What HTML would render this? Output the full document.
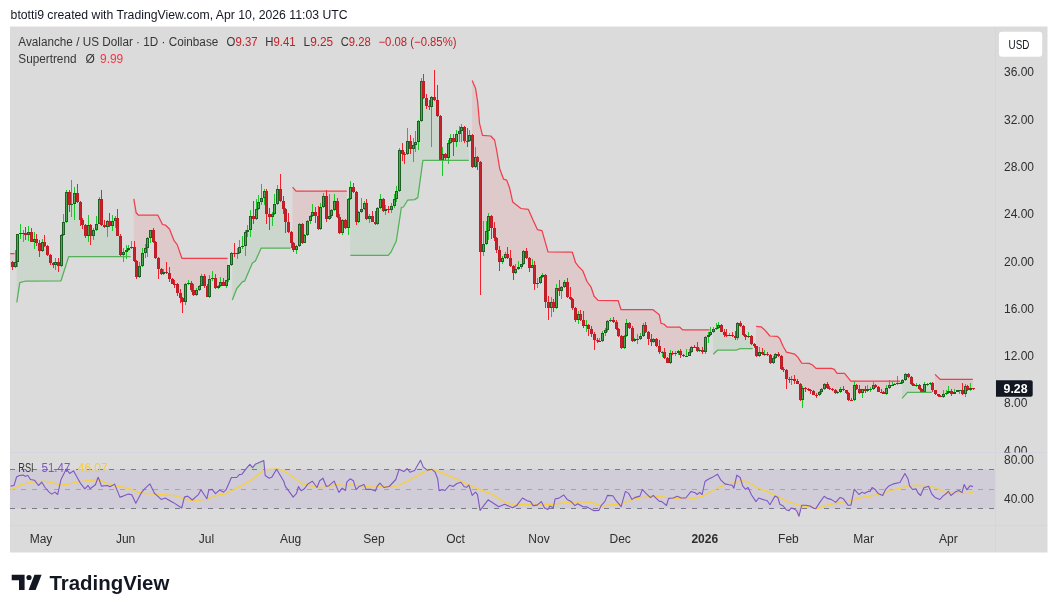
<!DOCTYPE html>
<html><head><meta charset="utf-8"><style>
html,body{margin:0;padding:0;background:#fff;}
body{width:1057px;height:613px;overflow:hidden;position:relative;font-family:"Liberation Sans", sans-serif;}
svg text{font-family:"Liberation Sans", sans-serif;}
.ax{font-size:12px;fill:#2e2e2e;}
.b{font-weight:bold;}
</style></head><body>
<svg width="1057" height="613" viewBox="0 0 1057 613" style="position:absolute;left:0;top:0;will-change:transform">
<text x="10.6" y="18.7" textLength="337" lengthAdjust="spacingAndGlyphs" style="font-size:12px;fill:#131722">btotti9 created with TradingView.com, Apr 10, 2026 11:03 UTC</text>
<rect x="10" y="26.5" width="1037.5" height="526" fill="#dbdbdb"/>
<svg x="10" y="27" width="985" height="425.5" viewBox="10 27 985 425.5" overflow="hidden">
<polygon points="10.2,253.6 14.6,253.6 14.6,264.8 12.4,264.6 10.2,264.6" fill="rgba(242,54,69,0.11)"/><polygon points="16.8,302.4 19.8,282.6 26,281 61,280.8 68.7,256.6 130.7,256.6 130.7,247.8 128.8,248.8 126.1,250.8 123.4,253.3 120.7,245.2 118,226.9 115.3,219.8 112.6,223.5 109.8,223.2 107.1,223.8 104.4,226.1 101.7,212.1 99,211.2 96.3,226.9 93.6,232.9 90.9,230.3 88.2,230.3 85.5,230.3 82.8,222.3 80.1,210.9 77.4,197.9 74.7,198.9 71.9,204.6 69.2,198.4 66.5,207.2 63.8,228.9 61.1,250.9 58.4,263.9 55.7,263.2 53,264.1 50.3,259.1 47.6,250.6 44.9,244.1 42.2,246.4 39.5,246.8 36.8,241.1 34.1,240.4 31.3,236.9 28.6,233.7 25.9,234 23.2,233 20.5,233.7 17.8,248.4 16.8,254.6" fill="rgba(76,175,80,0.11)"/><polygon points="133.8,198.9 136.2,212.8 138.5,215.2 157.9,215.2 162.5,224.5 165.6,225.2 169.5,229 174.1,240.7 177.2,244.6 181.9,258.3 227.6,258.3 227.6,277.9 226.2,283 223.5,283.6 220.8,283.9 218.1,286.9 215.4,283 212.7,278.8 210,287.8 207.3,291.1 204.6,280.6 201.9,280.6 199.2,287.8 196.5,292.3 193.8,292.6 191,286.6 188.3,283.5 185.6,293.4 182.9,300.3 180.2,295.5 177.5,288.5 174.8,283.9 172.1,281.1 169.4,275.9 166.7,272.5 164,272.9 161.3,271.4 158.6,263.6 155.9,250.2 153.2,236.2 150.4,234.2 147.7,243.2 145,250.9 142.3,259.5 139.6,271.3 136.9,268.9 134.2,253.8 133.8,252.9" fill="rgba(242,54,69,0.11)"/><polygon points="232.3,300 236.8,288.5 242.6,281.6 244.6,281.2 252.4,263 255.4,261 261.2,248 290.6,248 290.6,235.5 288.5,227.2 285.8,215.4 283.1,204.9 280.4,194.9 277.7,196.4 275,208.9 272.3,215.5 269.5,215.5 266.8,202.7 264.1,194.6 261.4,199.8 258.7,205.2 256,214.1 253.3,217.3 250.6,222.8 247.9,230.8 245.2,238.9 242.5,246.7 239.8,250.2 237.1,253.4 234.4,253.2 232.3,257.7" fill="rgba(76,175,80,0.11)"/><polygon points="292.6,187.2 296,191.2 346.8,191.2 346.8,218.4 345.3,224.2 342.6,226.8 339.9,225.3 337.2,209.1 334.5,205.5 331.8,213.2 329.1,217.6 326.4,207.3 323.7,201.5 321,218 318.3,222.8 315.6,214.1 312.9,213.8 310.1,218.6 307.4,228.2 304.7,239.4 302,233.9 299.3,234.9 296.6,247.8 293.9,246.7 292.6,242.5" fill="rgba(242,54,69,0.11)"/><polygon points="350.3,255.3 388.2,255.3 391.2,251.8 396.3,241 401.4,207.3 403.5,207 407.6,200.2 414.7,199.6 417.8,197.6 422.9,160.4 468.8,160.4 468.8,139.3 467.1,141.1 464.4,134.1 461.7,129.1 459,132.8 456.3,138.5 453.6,140.4 450.9,140.9 448.2,150.7 445.5,155.9 442.8,156.8 440.1,137.6 437.4,107.8 434.7,98.4 432,102.1 429.2,106.6 426.5,102.1 423.8,89.8 421.1,101.3 418.4,131.8 415.7,143.8 413,147.2 410.3,145.2 407.6,147.5 404.9,153.8 402.2,151.5 399.5,170.2 396.8,195.1 394.1,202.8 391.4,208 388.6,209.2 385.9,210.2 383.2,205.3 380.5,203.7 377.8,215.9 375.1,222.6 372.4,218.9 369.7,217.7 367,211.2 364.3,206.2 361.6,210.6 358.9,216.8 356.2,206.9 353.5,189.7 350.7,193 350.3,196.4" fill="rgba(76,175,80,0.11)"/><polygon points="472.2,80.4 475.6,88.6 477.7,102.2 479.5,123.3 482.5,135.4 490.7,136 494.6,140 496.7,150.5 499.7,168.7 503.6,179.2 506.7,180.1 509.7,188.3 512.7,201.9 520.9,208.5 528.4,209.4 533,220 537.5,229.7 542,230.6 548,251.9 572.3,252.1 575.6,262.7 578.8,266.8 582.9,270.9 587,281.5 591.1,287.2 594.1,296.3 598.1,300.4 618.1,300.5 621,309.5 653,309.7 659.3,314.8 661,323.4 663.8,324 667.3,327.2 679.8,327.2 682.7,329.9 709.6,329.9 709.6,334.5 708,336 705.3,344.9 702.6,351.1 699.9,350.5 697.2,349.4 694.5,347.1 691.8,349.4 689.1,353.8 686.4,355.8 683.7,355.4 681,353.1 678.3,352.4 675.6,353.4 672.9,353.2 670.2,358 667.4,360.5 664.7,355.1 662,352.2 659.3,349.1 656.6,342.5 653.9,340.9 651.2,340.9 648.5,335.5 645.8,328.5 643.1,330.8 640.4,337.5 637.7,338.9 635,340.2 632.3,334.5 629.6,325.4 626.8,329.4 624.1,341.7 621.4,341.7 618.7,332.5 616,325.7 613.3,321.1 610.6,320.6 607.9,325.6 605.2,331.9 602.5,337.2 599.8,341.2 597.1,340.8 594.4,337.4 591.7,331.9 588.9,327.1 586.2,325.6 583.5,323.1 580.8,317 578.1,317 575.4,313.7 572.7,303.5 570,298.2 567.3,289.6 564.6,284.8 561.9,289.2 559.2,289.6 556.5,297.8 553.8,304.8 551.1,305.1 548.3,305.1 545.6,288.4 542.9,275.8 540.2,279.9 537.5,283.6 534.8,274.6 532.1,266.4 529.4,262.7 526.7,254.2 524,257.5 521.3,265.7 518.6,267.9 515.9,270.9 513.2,269.6 510.5,261.9 507.7,255.9 505,256.2 502.3,260.1 499.6,255.9 496.9,243.9 494.2,233.2 491.5,222.4 488.8,223.7 486.1,237.4 483.4,248.2 480.7,207.4 478,159.9 475.3,162.3 472.6,151.3 472.2,149.6" fill="rgba(242,54,69,0.11)"/><polygon points="713.3,354.2 717.7,350 736.5,350 740,348.7 752.6,348.7 752.6,342.5 751.4,340 748.6,336.5 745.9,336 743.2,330.3 740.5,324.6 737.8,330.8 735.1,337.1 732.4,335.5 729.7,335.3 727,335 724.3,333.1 721.6,328.5 718.9,326.5 716.2,328.5 713.5,330.9 713.3,331" fill="rgba(76,175,80,0.11)"/><polygon points="756.2,326.3 761.1,326.8 764.5,329.7 769.9,336 777.2,336.3 779.7,338.5 783.1,346.3 786.5,352.2 794.8,354.2 797.8,357.1 801.7,363.1 809.1,363.4 812.5,365 816,368.4 831.4,368.4 834.3,369.4 837.1,373.4 844.6,373.4 847.4,376.8 850.8,381.1 900,381.1 900,383.2 897.5,383.7 894.8,384.5 892.1,385.2 889.4,386.9 886.7,391 884,393 881.3,392 878.6,389.4 875.9,386.2 873.2,387.4 870.5,389.4 867.7,390.2 865,390.2 862.3,391.1 859.6,390.8 856.9,387.1 854.2,392.8 851.5,399.9 848.8,396.5 846.1,391.7 843.4,389.7 840.7,390.9 838,392.9 835.3,391.9 832.6,389.9 829.9,388.9 827.1,386.3 824.4,386.9 821.7,390.7 819,393.6 816.3,394.9 813.6,392.7 810.9,390.4 808.2,389.6 805.5,388.7 802.8,394.1 800.1,391.8 797.4,382.4 794.7,379.9 792,379.5 789.3,379.5 786.5,374.4 783.8,369.6 781.1,362.4 778.4,355 775.7,355.9 773,360.1 770.3,359 767.6,354.5 764.9,353.6 762.2,352.6 759.5,353.7 756.8,351.1 756.2,349.9" fill="rgba(242,54,69,0.11)"/><polygon points="902,398.4 907.5,392.4 931.8,392.4 931.8,385.9 930,383.8 927.3,384.2 924.6,388 921.9,390.5 919.2,387.4 916.5,385.7 913.8,385.1 911.1,380.9 908.4,375.7 905.6,377.1 902.9,381.6 902,382.2" fill="rgba(76,175,80,0.11)"/><polygon points="935,374.4 940.1,379.3 972.8,379.4 972.8,388.8 970.6,389.2 967.9,388.4 965.2,390.1 962.5,392 959.8,390.4 957.1,391.4 954.4,393.4 951.7,392.8 949,391.8 946.2,393.1 943.5,395.2 940.8,396.2 938.1,394.9 935.4,392.2 935,391.4" fill="rgba(242,54,69,0.11)"/>
<g shape-rendering="crispEdges"><rect x="12" y="261" width="1" height="1" fill="#f0202c"/><rect x="12" y="267" width="1" height="3" fill="#f0202c"/><rect x="15" y="250" width="1" height="12" fill="#19c828"/><rect x="15" y="267" width="1" height="1" fill="#19c828"/><rect x="17" y="262" width="1" height="5" fill="#19c828"/><rect x="20" y="224" width="1" height="9" fill="#19c828"/><rect x="20" y="234" width="1" height="5" fill="#19c828"/><rect x="23" y="230" width="1" height="3" fill="#19c828"/><rect x="23" y="234" width="1" height="8" fill="#19c828"/><rect x="25" y="227" width="1" height="6" fill="#f0202c"/><rect x="25" y="235" width="1" height="5" fill="#f0202c"/><rect x="28" y="226" width="1" height="6" fill="#19c828"/><rect x="28" y="235" width="1" height="6" fill="#19c828"/><rect x="31" y="228" width="1" height="4" fill="#f0202c"/><rect x="34" y="232" width="1" height="7" fill="#19c828"/><rect x="34" y="242" width="1" height="7" fill="#19c828"/><rect x="36" y="234" width="1" height="5" fill="#f0202c"/><rect x="36" y="243" width="1" height="3" fill="#f0202c"/><rect x="39" y="240" width="1" height="3" fill="#f0202c"/><rect x="39" y="251" width="1" height="6" fill="#f0202c"/><rect x="42" y="239" width="1" height="3" fill="#19c828"/><rect x="42" y="251" width="1" height="1" fill="#19c828"/><rect x="44" y="235" width="1" height="7" fill="#f0202c"/><rect x="44" y="246" width="1" height="1" fill="#f0202c"/><rect x="47" y="245" width="1" height="1" fill="#f0202c"/><rect x="47" y="255" width="1" height="1" fill="#f0202c"/><rect x="50" y="254" width="1" height="1" fill="#f0202c"/><rect x="50" y="263" width="1" height="2" fill="#f0202c"/><rect x="53" y="262" width="1" height="1" fill="#f0202c"/><rect x="53" y="265" width="1" height="3" fill="#f0202c"/><rect x="55" y="258" width="1" height="4" fill="#19c828"/><rect x="55" y="265" width="1" height="5" fill="#19c828"/><rect x="58" y="258" width="1" height="4" fill="#f0202c"/><rect x="58" y="266" width="1" height="6" fill="#f0202c"/><rect x="61" y="234" width="1" height="1" fill="#19c828"/><rect x="61" y="266" width="1" height="1" fill="#19c828"/><rect x="63" y="214" width="1" height="8" fill="#19c828"/><rect x="63" y="235" width="1" height="1" fill="#19c828"/><rect x="66" y="190" width="1" height="2" fill="#19c828"/><rect x="66" y="222" width="1" height="1" fill="#19c828"/><rect x="69" y="190" width="1" height="2" fill="#f0202c"/><rect x="69" y="205" width="1" height="7" fill="#f0202c"/><rect x="71" y="180" width="1" height="24" fill="#19c828"/><rect x="71" y="205" width="1" height="12" fill="#19c828"/><rect x="74" y="187" width="1" height="6" fill="#19c828"/><rect x="74" y="204" width="1" height="16" fill="#19c828"/><rect x="77" y="184" width="1" height="9" fill="#f0202c"/><rect x="77" y="202" width="1" height="1" fill="#f0202c"/><rect x="80" y="201" width="1" height="1" fill="#f0202c"/><rect x="80" y="220" width="1" height="6" fill="#f0202c"/><rect x="82" y="218" width="1" height="2" fill="#f0202c"/><rect x="82" y="225" width="1" height="4" fill="#f0202c"/><rect x="85" y="224" width="1" height="1" fill="#f0202c"/><rect x="85" y="236" width="1" height="2" fill="#f0202c"/><rect x="88" y="215" width="1" height="10" fill="#19c828"/><rect x="88" y="236" width="1" height="6" fill="#19c828"/><rect x="90" y="224" width="1" height="1" fill="#f0202c"/><rect x="90" y="236" width="1" height="9" fill="#f0202c"/><rect x="93" y="228" width="1" height="2" fill="#19c828"/><rect x="93" y="236" width="1" height="4" fill="#19c828"/><rect x="96" y="216" width="1" height="8" fill="#19c828"/><rect x="96" y="230" width="1" height="1" fill="#19c828"/><rect x="99" y="197" width="1" height="2" fill="#19c828"/><rect x="101" y="190" width="1" height="9" fill="#f0202c"/><rect x="101" y="225" width="1" height="1" fill="#f0202c"/><rect x="104" y="220" width="1" height="5" fill="#f0202c"/><rect x="104" y="227" width="1" height="1" fill="#f0202c"/><rect x="107" y="220" width="1" height="1" fill="#19c828"/><rect x="107" y="227" width="1" height="10" fill="#19c828"/><rect x="109" y="213" width="1" height="8" fill="#f0202c"/><rect x="109" y="226" width="1" height="1" fill="#f0202c"/><rect x="112" y="215" width="1" height="6" fill="#19c828"/><rect x="112" y="226" width="1" height="5" fill="#19c828"/><rect x="115" y="216" width="1" height="2" fill="#19c828"/><rect x="115" y="221" width="1" height="7" fill="#19c828"/><rect x="117" y="209" width="1" height="9" fill="#f0202c"/><rect x="120" y="234" width="1" height="2" fill="#f0202c"/><rect x="120" y="255" width="1" height="1" fill="#f0202c"/><rect x="123" y="248" width="1" height="4" fill="#19c828"/><rect x="123" y="255" width="1" height="7" fill="#19c828"/><rect x="126" y="245" width="1" height="5" fill="#19c828"/><rect x="126" y="252" width="1" height="7" fill="#19c828"/><rect x="128" y="245" width="1" height="3" fill="#19c828"/><rect x="128" y="250" width="1" height="1" fill="#19c828"/><rect x="131" y="241" width="1" height="6" fill="#19c828"/><rect x="131" y="248" width="1" height="1" fill="#19c828"/><rect x="134" y="241" width="1" height="6" fill="#f0202c"/><rect x="134" y="261" width="1" height="1" fill="#f0202c"/><rect x="136" y="260" width="1" height="1" fill="#f0202c"/><rect x="136" y="277" width="1" height="2" fill="#f0202c"/><rect x="139" y="262" width="1" height="4" fill="#19c828"/><rect x="139" y="277" width="1" height="1" fill="#19c828"/><rect x="142" y="248" width="1" height="5" fill="#19c828"/><rect x="142" y="266" width="1" height="1" fill="#19c828"/><rect x="145" y="244" width="1" height="4" fill="#19c828"/><rect x="145" y="253" width="1" height="5" fill="#19c828"/><rect x="147" y="237" width="1" height="1" fill="#19c828"/><rect x="147" y="248" width="1" height="9" fill="#19c828"/><rect x="150" y="238" width="1" height="5" fill="#19c828"/><rect x="153" y="228" width="1" height="2" fill="#f0202c"/><rect x="153" y="242" width="1" height="1" fill="#f0202c"/><rect x="155" y="241" width="1" height="1" fill="#f0202c"/><rect x="155" y="258" width="1" height="1" fill="#f0202c"/><rect x="158" y="257" width="1" height="1" fill="#f0202c"/><rect x="158" y="269" width="1" height="10" fill="#f0202c"/><rect x="161" y="268" width="1" height="1" fill="#f0202c"/><rect x="161" y="274" width="1" height="1" fill="#f0202c"/><rect x="163" y="269" width="1" height="3" fill="#19c828"/><rect x="163" y="274" width="1" height="1" fill="#19c828"/><rect x="166" y="262" width="1" height="10" fill="#f0202c"/><rect x="166" y="273" width="1" height="1" fill="#f0202c"/><rect x="169" y="267" width="1" height="6" fill="#f0202c"/><rect x="169" y="279" width="1" height="3" fill="#f0202c"/><rect x="172" y="278" width="1" height="1" fill="#f0202c"/><rect x="174" y="280" width="1" height="4" fill="#f0202c"/><rect x="174" y="285" width="1" height="3" fill="#f0202c"/><rect x="177" y="283" width="1" height="1" fill="#f0202c"/><rect x="177" y="293" width="1" height="3" fill="#f0202c"/><rect x="180" y="289" width="1" height="4" fill="#f0202c"/><rect x="180" y="298" width="1" height="5" fill="#f0202c"/><rect x="182" y="297" width="1" height="1" fill="#f0202c"/><rect x="182" y="302" width="1" height="11" fill="#f0202c"/><rect x="185" y="283" width="1" height="1" fill="#19c828"/><rect x="185" y="302" width="1" height="3" fill="#19c828"/><rect x="188" y="280" width="1" height="3" fill="#19c828"/><rect x="188" y="284" width="1" height="1" fill="#19c828"/><rect x="191" y="281" width="1" height="2" fill="#f0202c"/><rect x="191" y="290" width="1" height="2" fill="#f0202c"/><rect x="193" y="284" width="1" height="6" fill="#f0202c"/><rect x="193" y="295" width="1" height="1" fill="#f0202c"/><rect x="196" y="288" width="1" height="2" fill="#19c828"/><rect x="196" y="295" width="1" height="1" fill="#19c828"/><rect x="199" y="285" width="1" height="1" fill="#19c828"/><rect x="199" y="290" width="1" height="1" fill="#19c828"/><rect x="201" y="274" width="1" height="2" fill="#19c828"/><rect x="204" y="274" width="1" height="2" fill="#f0202c"/><rect x="204" y="286" width="1" height="2" fill="#f0202c"/><rect x="207" y="284" width="1" height="2" fill="#f0202c"/><rect x="209" y="275" width="1" height="4" fill="#19c828"/><rect x="209" y="297" width="1" height="1" fill="#19c828"/><rect x="212" y="271" width="1" height="7" fill="#19c828"/><rect x="212" y="279" width="1" height="2" fill="#19c828"/><rect x="215" y="274" width="1" height="4" fill="#f0202c"/><rect x="215" y="288" width="1" height="1" fill="#f0202c"/><rect x="218" y="285" width="1" height="1" fill="#19c828"/><rect x="218" y="288" width="1" height="1" fill="#19c828"/><rect x="220" y="277" width="1" height="5" fill="#19c828"/><rect x="220" y="286" width="1" height="1" fill="#19c828"/><rect x="223" y="278" width="1" height="4" fill="#f0202c"/><rect x="226" y="286" width="1" height="2" fill="#19c828"/><rect x="228" y="280" width="1" height="2" fill="#19c828"/><rect x="231" y="252" width="1" height="1" fill="#19c828"/><rect x="231" y="265" width="1" height="1" fill="#19c828"/><rect x="234" y="243" width="1" height="10" fill="#f0202c"/><rect x="234" y="254" width="1" height="3" fill="#f0202c"/><rect x="237" y="248" width="1" height="5" fill="#19c828"/><rect x="237" y="254" width="1" height="5" fill="#19c828"/><rect x="239" y="240" width="1" height="7" fill="#19c828"/><rect x="239" y="253" width="1" height="1" fill="#19c828"/><rect x="242" y="236" width="1" height="10" fill="#19c828"/><rect x="242" y="247" width="1" height="2" fill="#19c828"/><rect x="245" y="230" width="1" height="2" fill="#19c828"/><rect x="245" y="246" width="1" height="10" fill="#19c828"/><rect x="247" y="225" width="1" height="5" fill="#19c828"/><rect x="247" y="232" width="1" height="5" fill="#19c828"/><rect x="250" y="210" width="1" height="6" fill="#19c828"/><rect x="250" y="230" width="1" height="7" fill="#19c828"/><rect x="253" y="201" width="1" height="15" fill="#f0202c"/><rect x="253" y="219" width="1" height="5" fill="#f0202c"/><rect x="256" y="199" width="1" height="10" fill="#19c828"/><rect x="256" y="219" width="1" height="1" fill="#19c828"/><rect x="258" y="195" width="1" height="7" fill="#19c828"/><rect x="258" y="209" width="1" height="1" fill="#19c828"/><rect x="261" y="184" width="1" height="14" fill="#19c828"/><rect x="261" y="202" width="1" height="3" fill="#19c828"/><rect x="264" y="189" width="1" height="2" fill="#19c828"/><rect x="264" y="198" width="1" height="7" fill="#19c828"/><rect x="266" y="189" width="1" height="2" fill="#f0202c"/><rect x="266" y="214" width="1" height="10" fill="#f0202c"/><rect x="269" y="208" width="1" height="6" fill="#f0202c"/><rect x="269" y="217" width="1" height="13" fill="#f0202c"/><rect x="272" y="212" width="1" height="2" fill="#19c828"/><rect x="272" y="217" width="1" height="9" fill="#19c828"/><rect x="274" y="194" width="1" height="10" fill="#19c828"/><rect x="274" y="214" width="1" height="1" fill="#19c828"/><rect x="277" y="185" width="1" height="4" fill="#19c828"/><rect x="277" y="204" width="1" height="1" fill="#19c828"/><rect x="280" y="174" width="1" height="15" fill="#f0202c"/><rect x="280" y="201" width="1" height="1" fill="#f0202c"/><rect x="283" y="196" width="1" height="5" fill="#f0202c"/><rect x="283" y="209" width="1" height="5" fill="#f0202c"/><rect x="285" y="208" width="1" height="1" fill="#f0202c"/><rect x="285" y="222" width="1" height="11" fill="#f0202c"/><rect x="288" y="213" width="1" height="9" fill="#f0202c"/><rect x="288" y="232" width="1" height="1" fill="#f0202c"/><rect x="291" y="231" width="1" height="1" fill="#f0202c"/><rect x="291" y="243" width="1" height="5" fill="#f0202c"/><rect x="293" y="242" width="1" height="1" fill="#f0202c"/><rect x="293" y="250" width="1" height="2" fill="#f0202c"/><rect x="296" y="245" width="1" height="1" fill="#19c828"/><rect x="296" y="250" width="1" height="4" fill="#19c828"/><rect x="299" y="223" width="1" height="1" fill="#19c828"/><rect x="299" y="246" width="1" height="1" fill="#19c828"/><rect x="302" y="223" width="1" height="1" fill="#f0202c"/><rect x="302" y="243" width="1" height="1" fill="#f0202c"/><rect x="304" y="234" width="1" height="1" fill="#19c828"/><rect x="307" y="220" width="1" height="1" fill="#19c828"/><rect x="307" y="235" width="1" height="1" fill="#19c828"/><rect x="310" y="215" width="1" height="1" fill="#19c828"/><rect x="310" y="221" width="1" height="3" fill="#19c828"/><rect x="312" y="204" width="1" height="8" fill="#19c828"/><rect x="312" y="216" width="1" height="1" fill="#19c828"/><rect x="315" y="207" width="1" height="5" fill="#f0202c"/><rect x="315" y="216" width="1" height="7" fill="#f0202c"/><rect x="318" y="206" width="1" height="10" fill="#f0202c"/><rect x="318" y="229" width="1" height="1" fill="#f0202c"/><rect x="320" y="203" width="1" height="4" fill="#19c828"/><rect x="320" y="229" width="1" height="1" fill="#19c828"/><rect x="323" y="193" width="1" height="3" fill="#19c828"/><rect x="323" y="207" width="1" height="1" fill="#19c828"/><rect x="326" y="190" width="1" height="6" fill="#f0202c"/><rect x="326" y="219" width="1" height="3" fill="#f0202c"/><rect x="329" y="194" width="1" height="22" fill="#19c828"/><rect x="329" y="219" width="1" height="1" fill="#19c828"/><rect x="331" y="209" width="1" height="1" fill="#19c828"/><rect x="331" y="216" width="1" height="2" fill="#19c828"/><rect x="334" y="194" width="1" height="7" fill="#19c828"/><rect x="334" y="210" width="1" height="1" fill="#19c828"/><rect x="337" y="198" width="1" height="3" fill="#f0202c"/><rect x="337" y="217" width="1" height="1" fill="#f0202c"/><rect x="339" y="214" width="1" height="3" fill="#f0202c"/><rect x="339" y="233" width="1" height="1" fill="#f0202c"/><rect x="342" y="219" width="1" height="1" fill="#19c828"/><rect x="342" y="233" width="1" height="2" fill="#19c828"/><rect x="345" y="219" width="1" height="1" fill="#f0202c"/><rect x="345" y="228" width="1" height="1" fill="#f0202c"/><rect x="348" y="198" width="1" height="1" fill="#19c828"/><rect x="348" y="228" width="1" height="7" fill="#19c828"/><rect x="350" y="181" width="1" height="6" fill="#19c828"/><rect x="350" y="199" width="1" height="1" fill="#19c828"/><rect x="353" y="183" width="1" height="4" fill="#f0202c"/><rect x="353" y="192" width="1" height="1" fill="#f0202c"/><rect x="356" y="191" width="1" height="1" fill="#f0202c"/><rect x="356" y="222" width="1" height="3" fill="#f0202c"/><rect x="358" y="211" width="1" height="1" fill="#19c828"/><rect x="358" y="222" width="1" height="1" fill="#19c828"/><rect x="361" y="198" width="1" height="11" fill="#19c828"/><rect x="361" y="212" width="1" height="1" fill="#19c828"/><rect x="364" y="201" width="1" height="2" fill="#19c828"/><rect x="364" y="209" width="1" height="1" fill="#19c828"/><rect x="366" y="199" width="1" height="4" fill="#f0202c"/><rect x="366" y="219" width="1" height="1" fill="#f0202c"/><rect x="369" y="214" width="1" height="2" fill="#19c828"/><rect x="369" y="219" width="1" height="4" fill="#19c828"/><rect x="372" y="211" width="1" height="5" fill="#f0202c"/><rect x="375" y="211" width="1" height="11" fill="#f0202c"/><rect x="375" y="224" width="1" height="1" fill="#f0202c"/><rect x="377" y="207" width="1" height="1" fill="#19c828"/><rect x="377" y="224" width="1" height="1" fill="#19c828"/><rect x="380" y="194" width="1" height="5" fill="#19c828"/><rect x="380" y="208" width="1" height="1" fill="#19c828"/><rect x="383" y="198" width="1" height="1" fill="#f0202c"/><rect x="383" y="211" width="1" height="1" fill="#f0202c"/><rect x="385" y="205" width="1" height="4" fill="#19c828"/><rect x="385" y="211" width="1" height="4" fill="#19c828"/><rect x="388" y="206" width="1" height="3" fill="#f0202c"/><rect x="388" y="210" width="1" height="3" fill="#f0202c"/><rect x="391" y="203" width="1" height="3" fill="#19c828"/><rect x="391" y="210" width="1" height="3" fill="#19c828"/><rect x="394" y="194" width="1" height="5" fill="#19c828"/><rect x="394" y="206" width="1" height="2" fill="#19c828"/><rect x="396" y="186" width="1" height="5" fill="#19c828"/><rect x="396" y="199" width="1" height="3" fill="#19c828"/><rect x="399" y="148" width="1" height="2" fill="#19c828"/><rect x="399" y="191" width="1" height="1" fill="#19c828"/><rect x="402" y="143" width="1" height="7" fill="#f0202c"/><rect x="402" y="154" width="1" height="7" fill="#f0202c"/><rect x="404" y="152" width="1" height="2" fill="#f0202c"/><rect x="404" y="155" width="1" height="9" fill="#f0202c"/><rect x="407" y="128" width="1" height="13" fill="#19c828"/><rect x="407" y="154" width="1" height="1" fill="#19c828"/><rect x="410" y="135" width="1" height="6" fill="#f0202c"/><rect x="410" y="149" width="1" height="5" fill="#f0202c"/><rect x="413" y="138" width="1" height="7" fill="#19c828"/><rect x="413" y="149" width="1" height="13" fill="#19c828"/><rect x="415" y="131" width="1" height="11" fill="#19c828"/><rect x="415" y="145" width="1" height="7" fill="#19c828"/><rect x="418" y="120" width="1" height="1" fill="#19c828"/><rect x="418" y="142" width="1" height="8" fill="#19c828"/><rect x="421" y="78" width="1" height="3" fill="#19c828"/><rect x="421" y="121" width="1" height="1" fill="#19c828"/><rect x="423" y="74" width="1" height="7" fill="#f0202c"/><rect x="423" y="98" width="1" height="1" fill="#f0202c"/><rect x="426" y="94" width="1" height="4" fill="#f0202c"/><rect x="426" y="106" width="1" height="3" fill="#f0202c"/><rect x="429" y="100" width="1" height="6" fill="#f0202c"/><rect x="429" y="107" width="1" height="3" fill="#f0202c"/><rect x="431" y="96" width="1" height="1" fill="#19c828"/><rect x="431" y="107" width="1" height="40" fill="#19c828"/><rect x="434" y="70" width="1" height="27" fill="#f0202c"/><rect x="434" y="100" width="1" height="1" fill="#f0202c"/><rect x="437" y="85" width="1" height="15" fill="#f0202c"/><rect x="437" y="116" width="1" height="1" fill="#f0202c"/><rect x="440" y="115" width="1" height="1" fill="#f0202c"/><rect x="440" y="160" width="1" height="1" fill="#f0202c"/><rect x="442" y="147" width="1" height="7" fill="#19c828"/><rect x="442" y="160" width="1" height="16" fill="#19c828"/><rect x="445" y="153" width="1" height="1" fill="#f0202c"/><rect x="445" y="158" width="1" height="3" fill="#f0202c"/><rect x="448" y="140" width="1" height="3" fill="#19c828"/><rect x="448" y="158" width="1" height="6" fill="#19c828"/><rect x="450" y="134" width="1" height="4" fill="#19c828"/><rect x="450" y="143" width="1" height="1" fill="#19c828"/><rect x="453" y="134" width="1" height="4" fill="#f0202c"/><rect x="453" y="142" width="1" height="14" fill="#f0202c"/><rect x="456" y="130" width="1" height="4" fill="#19c828"/><rect x="456" y="142" width="1" height="5" fill="#19c828"/><rect x="459" y="126" width="1" height="5" fill="#19c828"/><rect x="459" y="134" width="1" height="8" fill="#19c828"/><rect x="461" y="124" width="1" height="3" fill="#19c828"/><rect x="461" y="131" width="1" height="11" fill="#19c828"/><rect x="464" y="126" width="1" height="1" fill="#f0202c"/><rect x="464" y="141" width="1" height="2" fill="#f0202c"/><rect x="467" y="128" width="1" height="13" fill="#f0202c"/><rect x="467" y="142" width="1" height="5" fill="#f0202c"/><rect x="469" y="130" width="1" height="5" fill="#19c828"/><rect x="469" y="141" width="1" height="1" fill="#19c828"/><rect x="472" y="134" width="1" height="1" fill="#f0202c"/><rect x="472" y="167" width="1" height="1" fill="#f0202c"/><rect x="475" y="147" width="1" height="10" fill="#19c828"/><rect x="475" y="167" width="1" height="1" fill="#19c828"/><rect x="477" y="156" width="1" height="1" fill="#f0202c"/><rect x="477" y="162" width="1" height="8" fill="#f0202c"/><rect x="480" y="161" width="1" height="1" fill="#f0202c"/><rect x="480" y="252" width="1" height="43" fill="#f0202c"/><rect x="483" y="221" width="1" height="23" fill="#19c828"/><rect x="483" y="252" width="1" height="4" fill="#19c828"/><rect x="486" y="221" width="1" height="10" fill="#19c828"/><rect x="486" y="244" width="1" height="1" fill="#19c828"/><rect x="488" y="213" width="1" height="3" fill="#19c828"/><rect x="488" y="231" width="1" height="9" fill="#19c828"/><rect x="491" y="215" width="1" height="1" fill="#f0202c"/><rect x="491" y="228" width="1" height="11" fill="#f0202c"/><rect x="494" y="222" width="1" height="6" fill="#f0202c"/><rect x="494" y="238" width="1" height="3" fill="#f0202c"/><rect x="496" y="237" width="1" height="1" fill="#f0202c"/><rect x="496" y="250" width="1" height="3" fill="#f0202c"/><rect x="499" y="246" width="1" height="4" fill="#f0202c"/><rect x="499" y="262" width="1" height="9" fill="#f0202c"/><rect x="502" y="256" width="1" height="2" fill="#19c828"/><rect x="502" y="262" width="1" height="2" fill="#19c828"/><rect x="505" y="252" width="1" height="2" fill="#19c828"/><rect x="505" y="258" width="1" height="1" fill="#19c828"/><rect x="507" y="247" width="1" height="7" fill="#f0202c"/><rect x="507" y="258" width="1" height="1" fill="#f0202c"/><rect x="510" y="250" width="1" height="8" fill="#f0202c"/><rect x="510" y="266" width="1" height="1" fill="#f0202c"/><rect x="513" y="265" width="1" height="1" fill="#f0202c"/><rect x="513" y="273" width="1" height="7" fill="#f0202c"/><rect x="515" y="264" width="1" height="5" fill="#19c828"/><rect x="515" y="273" width="1" height="1" fill="#19c828"/><rect x="518" y="261" width="1" height="6" fill="#19c828"/><rect x="518" y="269" width="1" height="1" fill="#19c828"/><rect x="521" y="267" width="1" height="2" fill="#19c828"/><rect x="523" y="250" width="1" height="1" fill="#19c828"/><rect x="523" y="264" width="1" height="1" fill="#19c828"/><rect x="526" y="248" width="1" height="3" fill="#f0202c"/><rect x="526" y="258" width="1" height="1" fill="#f0202c"/><rect x="529" y="257" width="1" height="1" fill="#f0202c"/><rect x="529" y="268" width="1" height="4" fill="#f0202c"/><rect x="532" y="259" width="1" height="6" fill="#19c828"/><rect x="534" y="261" width="1" height="4" fill="#f0202c"/><rect x="534" y="284" width="1" height="6" fill="#f0202c"/><rect x="537" y="278" width="1" height="5" fill="#19c828"/><rect x="537" y="284" width="1" height="4" fill="#19c828"/><rect x="540" y="276" width="1" height="1" fill="#19c828"/><rect x="540" y="283" width="1" height="1" fill="#19c828"/><rect x="542" y="273" width="1" height="2" fill="#19c828"/><rect x="542" y="277" width="1" height="1" fill="#19c828"/><rect x="545" y="274" width="1" height="1" fill="#f0202c"/><rect x="545" y="302" width="1" height="6" fill="#f0202c"/><rect x="548" y="296" width="1" height="6" fill="#f0202c"/><rect x="548" y="308" width="1" height="12" fill="#f0202c"/><rect x="551" y="297" width="1" height="5" fill="#19c828"/><rect x="551" y="308" width="1" height="9" fill="#19c828"/><rect x="553" y="299" width="1" height="3" fill="#f0202c"/><rect x="553" y="308" width="1" height="4" fill="#f0202c"/><rect x="556" y="284" width="1" height="4" fill="#19c828"/><rect x="556" y="308" width="1" height="1" fill="#19c828"/><rect x="559" y="280" width="1" height="8" fill="#f0202c"/><rect x="559" y="291" width="1" height="5" fill="#f0202c"/><rect x="561" y="286" width="1" height="1" fill="#19c828"/><rect x="561" y="291" width="1" height="8" fill="#19c828"/><rect x="564" y="280" width="1" height="2" fill="#19c828"/><rect x="564" y="287" width="1" height="1" fill="#19c828"/><rect x="567" y="278" width="1" height="4" fill="#f0202c"/><rect x="567" y="297" width="1" height="1" fill="#f0202c"/><rect x="570" y="287" width="1" height="10" fill="#f0202c"/><rect x="570" y="299" width="1" height="1" fill="#f0202c"/><rect x="572" y="298" width="1" height="1" fill="#f0202c"/><rect x="572" y="308" width="1" height="2" fill="#f0202c"/><rect x="575" y="307" width="1" height="1" fill="#f0202c"/><rect x="575" y="320" width="1" height="2" fill="#f0202c"/><rect x="578" y="311" width="1" height="3" fill="#19c828"/><rect x="578" y="320" width="1" height="4" fill="#19c828"/><rect x="580" y="310" width="1" height="4" fill="#f0202c"/><rect x="580" y="320" width="1" height="1" fill="#f0202c"/><rect x="583" y="311" width="1" height="9" fill="#f0202c"/><rect x="583" y="326" width="1" height="2" fill="#f0202c"/><rect x="586" y="320" width="1" height="5" fill="#19c828"/><rect x="586" y="326" width="1" height="6" fill="#19c828"/><rect x="588" y="324" width="1" height="1" fill="#f0202c"/><rect x="588" y="329" width="1" height="7" fill="#f0202c"/><rect x="591" y="326" width="1" height="3" fill="#f0202c"/><rect x="591" y="334" width="1" height="3" fill="#f0202c"/><rect x="594" y="332" width="1" height="2" fill="#f0202c"/><rect x="594" y="340" width="1" height="10" fill="#f0202c"/><rect x="597" y="338" width="1" height="2" fill="#f0202c"/><rect x="597" y="341" width="1" height="2" fill="#f0202c"/><rect x="599" y="338" width="1" height="3" fill="#19c828"/><rect x="602" y="331" width="1" height="2" fill="#19c828"/><rect x="602" y="341" width="1" height="1" fill="#19c828"/><rect x="605" y="328" width="1" height="2" fill="#19c828"/><rect x="605" y="333" width="1" height="3" fill="#19c828"/><rect x="607" y="320" width="1" height="1" fill="#19c828"/><rect x="607" y="330" width="1" height="2" fill="#19c828"/><rect x="610" y="318" width="1" height="2" fill="#19c828"/><rect x="610" y="321" width="1" height="1" fill="#19c828"/><rect x="613" y="317" width="1" height="3" fill="#f0202c"/><rect x="613" y="322" width="1" height="1" fill="#f0202c"/><rect x="616" y="320" width="1" height="2" fill="#f0202c"/><rect x="616" y="329" width="1" height="1" fill="#f0202c"/><rect x="618" y="328" width="1" height="1" fill="#f0202c"/><rect x="618" y="336" width="1" height="1" fill="#f0202c"/><rect x="621" y="335" width="1" height="1" fill="#f0202c"/><rect x="621" y="348" width="1" height="1" fill="#f0202c"/><rect x="624" y="335" width="1" height="1" fill="#19c828"/><rect x="624" y="348" width="1" height="1" fill="#19c828"/><rect x="626" y="319" width="1" height="4" fill="#19c828"/><rect x="626" y="336" width="1" height="1" fill="#19c828"/><rect x="629" y="322" width="1" height="1" fill="#f0202c"/><rect x="629" y="328" width="1" height="1" fill="#f0202c"/><rect x="632" y="326" width="1" height="2" fill="#f0202c"/><rect x="632" y="341" width="1" height="1" fill="#f0202c"/><rect x="634" y="338" width="1" height="1" fill="#19c828"/><rect x="634" y="341" width="1" height="1" fill="#19c828"/><rect x="637" y="334" width="1" height="5" fill="#19c828"/><rect x="637" y="340" width="1" height="4" fill="#19c828"/><rect x="640" y="333" width="1" height="3" fill="#19c828"/><rect x="640" y="339" width="1" height="1" fill="#19c828"/><rect x="643" y="323" width="1" height="2" fill="#19c828"/><rect x="643" y="336" width="1" height="1" fill="#19c828"/><rect x="645" y="322" width="1" height="3" fill="#f0202c"/><rect x="645" y="332" width="1" height="1" fill="#f0202c"/><rect x="648" y="331" width="1" height="1" fill="#f0202c"/><rect x="648" y="339" width="1" height="6" fill="#f0202c"/><rect x="651" y="334" width="1" height="5" fill="#f0202c"/><rect x="651" y="342" width="1" height="4" fill="#f0202c"/><rect x="653" y="338" width="1" height="1" fill="#19c828"/><rect x="653" y="342" width="1" height="1" fill="#19c828"/><rect x="656" y="338" width="1" height="1" fill="#f0202c"/><rect x="656" y="346" width="1" height="1" fill="#f0202c"/><rect x="659" y="340" width="1" height="6" fill="#f0202c"/><rect x="659" y="352" width="1" height="2" fill="#f0202c"/><rect x="662" y="351" width="1" height="1" fill="#19c828"/><rect x="662" y="353" width="1" height="4" fill="#19c828"/><rect x="664" y="348" width="1" height="4" fill="#f0202c"/><rect x="664" y="358" width="1" height="1" fill="#f0202c"/><rect x="667" y="357" width="1" height="1" fill="#f0202c"/><rect x="670" y="350" width="1" height="3" fill="#19c828"/><rect x="670" y="363" width="1" height="1" fill="#19c828"/><rect x="672" y="351" width="1" height="2" fill="#f0202c"/><rect x="672" y="354" width="1" height="1" fill="#f0202c"/><rect x="675" y="351" width="1" height="2" fill="#19c828"/><rect x="675" y="354" width="1" height="2" fill="#19c828"/><rect x="678" y="350" width="1" height="1" fill="#19c828"/><rect x="678" y="353" width="1" height="2" fill="#19c828"/><rect x="680" y="349" width="1" height="2" fill="#f0202c"/><rect x="680" y="355" width="1" height="3" fill="#f0202c"/><rect x="683" y="354" width="1" height="1" fill="#f0202c"/><rect x="683" y="356" width="1" height="1" fill="#f0202c"/><rect x="686" y="349" width="1" height="7" fill="#19c828"/><rect x="689" y="349" width="1" height="3" fill="#19c828"/><rect x="691" y="346" width="1" height="1" fill="#19c828"/><rect x="691" y="352" width="1" height="1" fill="#19c828"/><rect x="694" y="345" width="1" height="2" fill="#f0202c"/><rect x="697" y="342" width="1" height="5" fill="#f0202c"/><rect x="697" y="351" width="1" height="1" fill="#f0202c"/><rect x="699" y="348" width="1" height="2" fill="#19c828"/><rect x="699" y="351" width="1" height="1" fill="#19c828"/><rect x="702" y="347" width="1" height="3" fill="#f0202c"/><rect x="702" y="352" width="1" height="2" fill="#f0202c"/><rect x="705" y="336" width="1" height="1" fill="#19c828"/><rect x="705" y="352" width="1" height="2" fill="#19c828"/><rect x="708" y="332" width="1" height="3" fill="#19c828"/><rect x="708" y="337" width="1" height="6" fill="#19c828"/><rect x="710" y="327" width="1" height="5" fill="#19c828"/><rect x="710" y="335" width="1" height="1" fill="#19c828"/><rect x="713" y="327" width="1" height="2" fill="#19c828"/><rect x="713" y="332" width="1" height="1" fill="#19c828"/><rect x="716" y="323" width="1" height="5" fill="#19c828"/><rect x="716" y="329" width="1" height="1" fill="#19c828"/><rect x="718" y="322" width="1" height="3" fill="#19c828"/><rect x="718" y="328" width="1" height="1" fill="#19c828"/><rect x="721" y="324" width="1" height="1" fill="#f0202c"/><rect x="724" y="329" width="1" height="3" fill="#f0202c"/><rect x="724" y="335" width="1" height="2" fill="#f0202c"/><rect x="726" y="329" width="1" height="6" fill="#f0202c"/><rect x="726" y="336" width="1" height="1" fill="#f0202c"/><rect x="729" y="333" width="1" height="2" fill="#19c828"/><rect x="732" y="332" width="1" height="3" fill="#f0202c"/><rect x="732" y="336" width="1" height="1" fill="#f0202c"/><rect x="735" y="331" width="1" height="5" fill="#f0202c"/><rect x="735" y="338" width="1" height="2" fill="#f0202c"/><rect x="737" y="322" width="1" height="1" fill="#19c828"/><rect x="737" y="338" width="1" height="2" fill="#19c828"/><rect x="740" y="321" width="1" height="2" fill="#f0202c"/><rect x="740" y="326" width="1" height="1" fill="#f0202c"/><rect x="743" y="325" width="1" height="1" fill="#f0202c"/><rect x="743" y="335" width="1" height="1" fill="#f0202c"/><rect x="745" y="334" width="1" height="1" fill="#f0202c"/><rect x="745" y="337" width="1" height="3" fill="#f0202c"/><rect x="748" y="332" width="1" height="4" fill="#19c828"/><rect x="748" y="337" width="1" height="1" fill="#19c828"/><rect x="751" y="335" width="1" height="1" fill="#f0202c"/><rect x="751" y="344" width="1" height="1" fill="#f0202c"/><rect x="754" y="343" width="1" height="1" fill="#f0202c"/><rect x="754" y="346" width="1" height="2" fill="#f0202c"/><rect x="756" y="356" width="1" height="1" fill="#f0202c"/><rect x="759" y="347" width="1" height="5" fill="#19c828"/><rect x="759" y="356" width="1" height="1" fill="#19c828"/><rect x="762" y="348" width="1" height="4" fill="#f0202c"/><rect x="762" y="354" width="1" height="1" fill="#f0202c"/><rect x="764" y="350" width="1" height="4" fill="#19c828"/><rect x="764" y="355" width="1" height="1" fill="#19c828"/><rect x="767" y="352" width="1" height="2" fill="#f0202c"/><rect x="767" y="355" width="1" height="1" fill="#f0202c"/><rect x="770" y="354" width="1" height="1" fill="#f0202c"/><rect x="770" y="363" width="1" height="1" fill="#f0202c"/><rect x="773" y="356" width="1" height="2" fill="#19c828"/><rect x="773" y="363" width="1" height="1" fill="#19c828"/><rect x="775" y="353" width="1" height="1" fill="#19c828"/><rect x="775" y="358" width="1" height="1" fill="#19c828"/><rect x="778" y="352" width="1" height="2" fill="#f0202c"/><rect x="778" y="356" width="1" height="1" fill="#f0202c"/><rect x="781" y="355" width="1" height="1" fill="#f0202c"/><rect x="781" y="369" width="1" height="1" fill="#f0202c"/><rect x="783" y="367" width="1" height="2" fill="#f0202c"/><rect x="783" y="370" width="1" height="2" fill="#f0202c"/><rect x="786" y="369" width="1" height="1" fill="#f0202c"/><rect x="786" y="379" width="1" height="10" fill="#f0202c"/><rect x="789" y="377" width="1" height="2" fill="#f0202c"/><rect x="789" y="380" width="1" height="3" fill="#f0202c"/><rect x="791" y="376" width="1" height="3" fill="#19c828"/><rect x="791" y="380" width="1" height="5" fill="#19c828"/><rect x="794" y="375" width="1" height="4" fill="#f0202c"/><rect x="794" y="381" width="1" height="3" fill="#f0202c"/><rect x="797" y="379" width="1" height="2" fill="#f0202c"/><rect x="800" y="383" width="1" height="1" fill="#f0202c"/><rect x="800" y="400" width="1" height="1" fill="#f0202c"/><rect x="802" y="386" width="1" height="2" fill="#19c828"/><rect x="802" y="400" width="1" height="8" fill="#19c828"/><rect x="805" y="387" width="1" height="1" fill="#f0202c"/><rect x="805" y="389" width="1" height="3" fill="#f0202c"/><rect x="808" y="388" width="1" height="1" fill="#f0202c"/><rect x="808" y="390" width="1" height="1" fill="#f0202c"/><rect x="810" y="389" width="1" height="1" fill="#f0202c"/><rect x="810" y="391" width="1" height="3" fill="#f0202c"/><rect x="813" y="390" width="1" height="1" fill="#f0202c"/><rect x="816" y="393" width="1" height="2" fill="#f0202c"/><rect x="816" y="396" width="1" height="2" fill="#f0202c"/><rect x="819" y="391" width="1" height="1" fill="#19c828"/><rect x="819" y="395" width="1" height="1" fill="#19c828"/><rect x="821" y="388" width="1" height="1" fill="#19c828"/><rect x="821" y="392" width="1" height="2" fill="#19c828"/><rect x="824" y="383" width="1" height="1" fill="#19c828"/><rect x="824" y="389" width="1" height="1" fill="#19c828"/><rect x="827" y="382" width="1" height="2" fill="#f0202c"/><rect x="827" y="388" width="1" height="1" fill="#f0202c"/><rect x="829" y="386" width="1" height="2" fill="#f0202c"/><rect x="829" y="389" width="1" height="1" fill="#f0202c"/><rect x="832" y="388" width="1" height="1" fill="#f0202c"/><rect x="832" y="390" width="1" height="1" fill="#f0202c"/><rect x="835" y="389" width="1" height="1" fill="#f0202c"/><rect x="835" y="393" width="1" height="1" fill="#f0202c"/><rect x="837" y="391" width="1" height="1" fill="#19c828"/><rect x="837" y="393" width="1" height="1" fill="#19c828"/><rect x="840" y="387" width="1" height="2" fill="#19c828"/><rect x="840" y="392" width="1" height="1" fill="#19c828"/><rect x="843" y="386" width="1" height="3" fill="#f0202c"/><rect x="843" y="390" width="1" height="1" fill="#f0202c"/><rect x="846" y="393" width="1" height="1" fill="#f0202c"/><rect x="848" y="392" width="1" height="1" fill="#f0202c"/><rect x="848" y="400" width="1" height="1" fill="#f0202c"/><rect x="851" y="398" width="1" height="2" fill="#f0202c"/><rect x="854" y="381" width="1" height="4" fill="#19c828"/><rect x="854" y="400" width="1" height="1" fill="#19c828"/><rect x="856" y="384" width="1" height="1" fill="#f0202c"/><rect x="856" y="389" width="1" height="1" fill="#f0202c"/><rect x="859" y="385" width="1" height="4" fill="#f0202c"/><rect x="859" y="393" width="1" height="1" fill="#f0202c"/><rect x="862" y="393" width="1" height="5" fill="#19c828"/><rect x="865" y="386" width="1" height="3" fill="#f0202c"/><rect x="865" y="391" width="1" height="2" fill="#f0202c"/><rect x="867" y="385" width="1" height="4" fill="#19c828"/><rect x="867" y="391" width="1" height="1" fill="#19c828"/><rect x="870" y="387" width="1" height="2" fill="#19c828"/><rect x="870" y="390" width="1" height="2" fill="#19c828"/><rect x="873" y="382" width="1" height="3" fill="#19c828"/><rect x="873" y="389" width="1" height="1" fill="#19c828"/><rect x="875" y="384" width="1" height="1" fill="#f0202c"/><rect x="875" y="387" width="1" height="1" fill="#f0202c"/><rect x="878" y="386" width="1" height="1" fill="#f0202c"/><rect x="881" y="389" width="1" height="3" fill="#f0202c"/><rect x="883" y="391" width="1" height="1" fill="#f0202c"/><rect x="886" y="385" width="1" height="3" fill="#19c828"/><rect x="886" y="394" width="1" height="1" fill="#19c828"/><rect x="889" y="380" width="1" height="5" fill="#19c828"/><rect x="889" y="388" width="1" height="1" fill="#19c828"/><rect x="892" y="381" width="1" height="4" fill="#19c828"/><rect x="894" y="383" width="1" height="1" fill="#19c828"/><rect x="897" y="376" width="1" height="7" fill="#19c828"/><rect x="897" y="384" width="1" height="1" fill="#19c828"/><rect x="900" y="382" width="1" height="1" fill="#19c828"/><rect x="902" y="379" width="1" height="1" fill="#19c828"/><rect x="902" y="383" width="1" height="1" fill="#19c828"/><rect x="905" y="373" width="1" height="1" fill="#19c828"/><rect x="905" y="380" width="1" height="1" fill="#19c828"/><rect x="908" y="373" width="1" height="1" fill="#f0202c"/><rect x="908" y="377" width="1" height="1" fill="#f0202c"/><rect x="911" y="376" width="1" height="1" fill="#f0202c"/><rect x="911" y="384" width="1" height="1" fill="#f0202c"/><rect x="913" y="383" width="1" height="1" fill="#f0202c"/><rect x="916" y="383" width="1" height="2" fill="#19c828"/><rect x="916" y="386" width="1" height="1" fill="#19c828"/><rect x="919" y="384" width="1" height="1" fill="#f0202c"/><rect x="919" y="389" width="1" height="1" fill="#f0202c"/><rect x="921" y="388" width="1" height="1" fill="#f0202c"/><rect x="921" y="392" width="1" height="1" fill="#f0202c"/><rect x="924" y="382" width="1" height="2" fill="#19c828"/><rect x="924" y="392" width="1" height="1" fill="#19c828"/><rect x="927" y="383" width="1" height="1" fill="#19c828"/><rect x="927" y="385" width="1" height="1" fill="#19c828"/><rect x="930" y="382" width="1" height="1" fill="#19c828"/><rect x="930" y="384" width="1" height="1" fill="#19c828"/><rect x="932" y="382" width="1" height="1" fill="#f0202c"/><rect x="932" y="390" width="1" height="2" fill="#f0202c"/><rect x="935" y="394" width="1" height="1" fill="#f0202c"/><rect x="938" y="396" width="1" height="1" fill="#f0202c"/><rect x="940" y="395" width="1" height="1" fill="#f0202c"/><rect x="943" y="390" width="1" height="4" fill="#19c828"/><rect x="943" y="397" width="1" height="1" fill="#19c828"/><rect x="946" y="390" width="1" height="3" fill="#19c828"/><rect x="946" y="394" width="1" height="1" fill="#19c828"/><rect x="948" y="386" width="1" height="5" fill="#19c828"/><rect x="948" y="393" width="1" height="1" fill="#19c828"/><rect x="951" y="389" width="1" height="2" fill="#f0202c"/><rect x="951" y="394" width="1" height="2" fill="#f0202c"/><rect x="954" y="389" width="1" height="3" fill="#19c828"/><rect x="959" y="391" width="1" height="3" fill="#19c828"/><rect x="962" y="383" width="1" height="7" fill="#f0202c"/><rect x="962" y="394" width="1" height="1" fill="#f0202c"/><rect x="965" y="384" width="1" height="2" fill="#19c828"/><rect x="965" y="394" width="1" height="3" fill="#19c828"/><rect x="967" y="385" width="1" height="1" fill="#f0202c"/><rect x="967" y="390" width="1" height="1" fill="#f0202c"/><rect x="970" y="383" width="1" height="5" fill="#19c828"/><rect x="970" y="390" width="1" height="1" fill="#19c828"/><rect x="973" y="389" width="1" height="1" fill="#f0202c"/><rect x="11" y="262" width="3" height="5" fill="#c01c26"/><rect x="12" y="263" width="1" height="3" fill="#c4222c"/><rect x="14" y="262" width="3" height="5" fill="#1d5e22"/><rect x="15" y="263" width="1" height="3" fill="#4aa94f"/><rect x="16" y="234" width="3" height="28" fill="#1d5e22"/><rect x="17" y="235" width="1" height="26" fill="#4aa94f"/><rect x="19" y="233" width="3" height="1" fill="#1d5e22"/><rect x="22" y="233" width="3" height="1" fill="#1d5e22"/><rect x="24" y="233" width="3" height="2" fill="#c01c26"/><rect x="27" y="232" width="3" height="3" fill="#1d5e22"/><rect x="28" y="233" width="1" height="1" fill="#4aa94f"/><rect x="30" y="232" width="3" height="10" fill="#c01c26"/><rect x="31" y="233" width="1" height="8" fill="#c4222c"/><rect x="33" y="239" width="3" height="3" fill="#1d5e22"/><rect x="34" y="240" width="1" height="1" fill="#4aa94f"/><rect x="35" y="239" width="3" height="4" fill="#c01c26"/><rect x="36" y="240" width="1" height="2" fill="#c4222c"/><rect x="38" y="243" width="3" height="8" fill="#c01c26"/><rect x="39" y="244" width="1" height="6" fill="#c4222c"/><rect x="41" y="242" width="3" height="9" fill="#1d5e22"/><rect x="42" y="243" width="1" height="7" fill="#4aa94f"/><rect x="43" y="242" width="3" height="4" fill="#c01c26"/><rect x="44" y="243" width="1" height="2" fill="#c4222c"/><rect x="46" y="246" width="3" height="9" fill="#c01c26"/><rect x="47" y="247" width="1" height="7" fill="#c4222c"/><rect x="49" y="255" width="3" height="8" fill="#c01c26"/><rect x="50" y="256" width="1" height="6" fill="#c4222c"/><rect x="52" y="263" width="3" height="2" fill="#c01c26"/><rect x="54" y="262" width="3" height="3" fill="#1d5e22"/><rect x="55" y="263" width="1" height="1" fill="#4aa94f"/><rect x="57" y="262" width="3" height="4" fill="#c01c26"/><rect x="58" y="263" width="1" height="2" fill="#c4222c"/><rect x="60" y="235" width="3" height="31" fill="#1d5e22"/><rect x="61" y="236" width="1" height="29" fill="#4aa94f"/><rect x="62" y="222" width="3" height="13" fill="#1d5e22"/><rect x="63" y="223" width="1" height="11" fill="#4aa94f"/><rect x="65" y="192" width="3" height="30" fill="#1d5e22"/><rect x="66" y="193" width="1" height="28" fill="#4aa94f"/><rect x="68" y="192" width="3" height="13" fill="#c01c26"/><rect x="69" y="193" width="1" height="11" fill="#c4222c"/><rect x="70" y="204" width="3" height="1" fill="#1d5e22"/><rect x="73" y="193" width="3" height="11" fill="#1d5e22"/><rect x="74" y="194" width="1" height="9" fill="#4aa94f"/><rect x="76" y="193" width="3" height="9" fill="#c01c26"/><rect x="77" y="194" width="1" height="7" fill="#c4222c"/><rect x="79" y="202" width="3" height="18" fill="#c01c26"/><rect x="80" y="203" width="1" height="16" fill="#c4222c"/><rect x="81" y="220" width="3" height="5" fill="#c01c26"/><rect x="82" y="221" width="1" height="3" fill="#c4222c"/><rect x="84" y="225" width="3" height="11" fill="#c01c26"/><rect x="85" y="226" width="1" height="9" fill="#c4222c"/><rect x="87" y="225" width="3" height="11" fill="#1d5e22"/><rect x="88" y="226" width="1" height="9" fill="#4aa94f"/><rect x="89" y="225" width="3" height="11" fill="#c01c26"/><rect x="90" y="226" width="1" height="9" fill="#c4222c"/><rect x="92" y="230" width="3" height="6" fill="#1d5e22"/><rect x="93" y="231" width="1" height="4" fill="#4aa94f"/><rect x="95" y="224" width="3" height="6" fill="#1d5e22"/><rect x="96" y="225" width="1" height="4" fill="#4aa94f"/><rect x="98" y="199" width="3" height="25" fill="#1d5e22"/><rect x="99" y="200" width="1" height="23" fill="#4aa94f"/><rect x="100" y="199" width="3" height="26" fill="#c01c26"/><rect x="101" y="200" width="1" height="24" fill="#c4222c"/><rect x="103" y="225" width="3" height="2" fill="#c01c26"/><rect x="106" y="221" width="3" height="6" fill="#1d5e22"/><rect x="107" y="222" width="1" height="4" fill="#4aa94f"/><rect x="108" y="221" width="3" height="5" fill="#c01c26"/><rect x="109" y="222" width="1" height="3" fill="#c4222c"/><rect x="111" y="221" width="3" height="5" fill="#1d5e22"/><rect x="112" y="222" width="1" height="3" fill="#4aa94f"/><rect x="114" y="218" width="3" height="3" fill="#1d5e22"/><rect x="115" y="219" width="1" height="1" fill="#4aa94f"/><rect x="116" y="218" width="3" height="18" fill="#c01c26"/><rect x="117" y="219" width="1" height="16" fill="#c4222c"/><rect x="119" y="236" width="3" height="19" fill="#c01c26"/><rect x="120" y="237" width="1" height="17" fill="#c4222c"/><rect x="122" y="252" width="3" height="3" fill="#1d5e22"/><rect x="123" y="253" width="1" height="1" fill="#4aa94f"/><rect x="125" y="250" width="3" height="2" fill="#1d5e22"/><rect x="127" y="248" width="3" height="2" fill="#1d5e22"/><rect x="130" y="247" width="3" height="1" fill="#1d5e22"/><rect x="133" y="247" width="3" height="14" fill="#c01c26"/><rect x="134" y="248" width="1" height="12" fill="#c4222c"/><rect x="135" y="261" width="3" height="16" fill="#c01c26"/><rect x="136" y="262" width="1" height="14" fill="#c4222c"/><rect x="138" y="266" width="3" height="11" fill="#1d5e22"/><rect x="139" y="267" width="1" height="9" fill="#4aa94f"/><rect x="141" y="253" width="3" height="13" fill="#1d5e22"/><rect x="142" y="254" width="1" height="11" fill="#4aa94f"/><rect x="144" y="248" width="3" height="5" fill="#1d5e22"/><rect x="145" y="249" width="1" height="3" fill="#4aa94f"/><rect x="146" y="238" width="3" height="10" fill="#1d5e22"/><rect x="147" y="239" width="1" height="8" fill="#4aa94f"/><rect x="149" y="230" width="3" height="8" fill="#1d5e22"/><rect x="150" y="231" width="1" height="6" fill="#4aa94f"/><rect x="152" y="230" width="3" height="12" fill="#c01c26"/><rect x="153" y="231" width="1" height="10" fill="#c4222c"/><rect x="154" y="242" width="3" height="16" fill="#c01c26"/><rect x="155" y="243" width="1" height="14" fill="#c4222c"/><rect x="157" y="258" width="3" height="11" fill="#c01c26"/><rect x="158" y="259" width="1" height="9" fill="#c4222c"/><rect x="160" y="269" width="3" height="5" fill="#c01c26"/><rect x="161" y="270" width="1" height="3" fill="#c4222c"/><rect x="162" y="272" width="3" height="2" fill="#1d5e22"/><rect x="165" y="272" width="3" height="1" fill="#c01c26"/><rect x="168" y="273" width="3" height="6" fill="#c01c26"/><rect x="169" y="274" width="1" height="4" fill="#c4222c"/><rect x="171" y="279" width="3" height="5" fill="#c01c26"/><rect x="172" y="280" width="1" height="3" fill="#c4222c"/><rect x="173" y="284" width="3" height="1" fill="#c01c26"/><rect x="176" y="284" width="3" height="9" fill="#c01c26"/><rect x="177" y="285" width="1" height="7" fill="#c4222c"/><rect x="179" y="293" width="3" height="5" fill="#c01c26"/><rect x="180" y="294" width="1" height="3" fill="#c4222c"/><rect x="181" y="298" width="3" height="4" fill="#c01c26"/><rect x="182" y="299" width="1" height="2" fill="#c4222c"/><rect x="184" y="284" width="3" height="18" fill="#1d5e22"/><rect x="185" y="285" width="1" height="16" fill="#4aa94f"/><rect x="187" y="283" width="3" height="1" fill="#1d5e22"/><rect x="190" y="283" width="3" height="7" fill="#c01c26"/><rect x="191" y="284" width="1" height="5" fill="#c4222c"/><rect x="192" y="290" width="3" height="5" fill="#c01c26"/><rect x="193" y="291" width="1" height="3" fill="#c4222c"/><rect x="195" y="290" width="3" height="5" fill="#1d5e22"/><rect x="196" y="291" width="1" height="3" fill="#4aa94f"/><rect x="198" y="286" width="3" height="4" fill="#1d5e22"/><rect x="199" y="287" width="1" height="2" fill="#4aa94f"/><rect x="200" y="276" width="3" height="10" fill="#1d5e22"/><rect x="201" y="277" width="1" height="8" fill="#4aa94f"/><rect x="203" y="276" width="3" height="10" fill="#c01c26"/><rect x="204" y="277" width="1" height="8" fill="#c4222c"/><rect x="206" y="286" width="3" height="11" fill="#c01c26"/><rect x="207" y="287" width="1" height="9" fill="#c4222c"/><rect x="208" y="279" width="3" height="18" fill="#1d5e22"/><rect x="209" y="280" width="1" height="16" fill="#4aa94f"/><rect x="211" y="278" width="3" height="1" fill="#1d5e22"/><rect x="214" y="278" width="3" height="10" fill="#c01c26"/><rect x="215" y="279" width="1" height="8" fill="#c4222c"/><rect x="217" y="286" width="3" height="2" fill="#1d5e22"/><rect x="219" y="282" width="3" height="4" fill="#1d5e22"/><rect x="220" y="283" width="1" height="2" fill="#4aa94f"/><rect x="222" y="282" width="3" height="4" fill="#c01c26"/><rect x="223" y="283" width="1" height="2" fill="#c4222c"/><rect x="225" y="280" width="3" height="6" fill="#1d5e22"/><rect x="226" y="281" width="1" height="4" fill="#4aa94f"/><rect x="227" y="265" width="3" height="15" fill="#1d5e22"/><rect x="228" y="266" width="1" height="13" fill="#4aa94f"/><rect x="230" y="253" width="3" height="12" fill="#1d5e22"/><rect x="231" y="254" width="1" height="10" fill="#4aa94f"/><rect x="233" y="253" width="3" height="1" fill="#c01c26"/><rect x="236" y="253" width="3" height="1" fill="#1d5e22"/><rect x="238" y="247" width="3" height="6" fill="#1d5e22"/><rect x="239" y="248" width="1" height="4" fill="#4aa94f"/><rect x="241" y="246" width="3" height="1" fill="#1d5e22"/><rect x="244" y="232" width="3" height="14" fill="#1d5e22"/><rect x="245" y="233" width="1" height="12" fill="#4aa94f"/><rect x="246" y="230" width="3" height="2" fill="#1d5e22"/><rect x="249" y="216" width="3" height="14" fill="#1d5e22"/><rect x="250" y="217" width="1" height="12" fill="#4aa94f"/><rect x="252" y="216" width="3" height="3" fill="#c01c26"/><rect x="253" y="217" width="1" height="1" fill="#c4222c"/><rect x="255" y="209" width="3" height="10" fill="#1d5e22"/><rect x="256" y="210" width="1" height="8" fill="#4aa94f"/><rect x="257" y="202" width="3" height="7" fill="#1d5e22"/><rect x="258" y="203" width="1" height="5" fill="#4aa94f"/><rect x="260" y="198" width="3" height="4" fill="#1d5e22"/><rect x="261" y="199" width="1" height="2" fill="#4aa94f"/><rect x="263" y="191" width="3" height="7" fill="#1d5e22"/><rect x="264" y="192" width="1" height="5" fill="#4aa94f"/><rect x="265" y="191" width="3" height="23" fill="#c01c26"/><rect x="266" y="192" width="1" height="21" fill="#c4222c"/><rect x="268" y="214" width="3" height="3" fill="#c01c26"/><rect x="269" y="215" width="1" height="1" fill="#c4222c"/><rect x="271" y="214" width="3" height="3" fill="#1d5e22"/><rect x="272" y="215" width="1" height="1" fill="#4aa94f"/><rect x="273" y="204" width="3" height="10" fill="#1d5e22"/><rect x="274" y="205" width="1" height="8" fill="#4aa94f"/><rect x="276" y="189" width="3" height="15" fill="#1d5e22"/><rect x="277" y="190" width="1" height="13" fill="#4aa94f"/><rect x="279" y="189" width="3" height="12" fill="#c01c26"/><rect x="280" y="190" width="1" height="10" fill="#c4222c"/><rect x="282" y="201" width="3" height="8" fill="#c01c26"/><rect x="283" y="202" width="1" height="6" fill="#c4222c"/><rect x="284" y="209" width="3" height="13" fill="#c01c26"/><rect x="285" y="210" width="1" height="11" fill="#c4222c"/><rect x="287" y="222" width="3" height="10" fill="#c01c26"/><rect x="288" y="223" width="1" height="8" fill="#c4222c"/><rect x="290" y="232" width="3" height="11" fill="#c01c26"/><rect x="291" y="233" width="1" height="9" fill="#c4222c"/><rect x="292" y="243" width="3" height="7" fill="#c01c26"/><rect x="293" y="244" width="1" height="5" fill="#c4222c"/><rect x="295" y="246" width="3" height="4" fill="#1d5e22"/><rect x="296" y="247" width="1" height="2" fill="#4aa94f"/><rect x="298" y="224" width="3" height="22" fill="#1d5e22"/><rect x="299" y="225" width="1" height="20" fill="#4aa94f"/><rect x="301" y="224" width="3" height="19" fill="#c01c26"/><rect x="302" y="225" width="1" height="17" fill="#c4222c"/><rect x="303" y="235" width="3" height="8" fill="#1d5e22"/><rect x="304" y="236" width="1" height="6" fill="#4aa94f"/><rect x="306" y="221" width="3" height="14" fill="#1d5e22"/><rect x="307" y="222" width="1" height="12" fill="#4aa94f"/><rect x="309" y="216" width="3" height="5" fill="#1d5e22"/><rect x="310" y="217" width="1" height="3" fill="#4aa94f"/><rect x="311" y="212" width="3" height="4" fill="#1d5e22"/><rect x="312" y="213" width="1" height="2" fill="#4aa94f"/><rect x="314" y="212" width="3" height="4" fill="#c01c26"/><rect x="315" y="213" width="1" height="2" fill="#c4222c"/><rect x="317" y="216" width="3" height="13" fill="#c01c26"/><rect x="318" y="217" width="1" height="11" fill="#c4222c"/><rect x="319" y="207" width="3" height="22" fill="#1d5e22"/><rect x="320" y="208" width="1" height="20" fill="#4aa94f"/><rect x="322" y="196" width="3" height="11" fill="#1d5e22"/><rect x="323" y="197" width="1" height="9" fill="#4aa94f"/><rect x="325" y="196" width="3" height="23" fill="#c01c26"/><rect x="326" y="197" width="1" height="21" fill="#c4222c"/><rect x="328" y="216" width="3" height="3" fill="#1d5e22"/><rect x="329" y="217" width="1" height="1" fill="#4aa94f"/><rect x="330" y="210" width="3" height="6" fill="#1d5e22"/><rect x="331" y="211" width="1" height="4" fill="#4aa94f"/><rect x="333" y="201" width="3" height="9" fill="#1d5e22"/><rect x="334" y="202" width="1" height="7" fill="#4aa94f"/><rect x="336" y="201" width="3" height="16" fill="#c01c26"/><rect x="337" y="202" width="1" height="14" fill="#c4222c"/><rect x="338" y="217" width="3" height="16" fill="#c01c26"/><rect x="339" y="218" width="1" height="14" fill="#c4222c"/><rect x="341" y="220" width="3" height="13" fill="#1d5e22"/><rect x="342" y="221" width="1" height="11" fill="#4aa94f"/><rect x="344" y="220" width="3" height="8" fill="#c01c26"/><rect x="345" y="221" width="1" height="6" fill="#c4222c"/><rect x="347" y="199" width="3" height="29" fill="#1d5e22"/><rect x="348" y="200" width="1" height="27" fill="#4aa94f"/><rect x="349" y="187" width="3" height="12" fill="#1d5e22"/><rect x="350" y="188" width="1" height="10" fill="#4aa94f"/><rect x="352" y="187" width="3" height="5" fill="#c01c26"/><rect x="353" y="188" width="1" height="3" fill="#c4222c"/><rect x="355" y="192" width="3" height="30" fill="#c01c26"/><rect x="356" y="193" width="1" height="28" fill="#c4222c"/><rect x="357" y="212" width="3" height="10" fill="#1d5e22"/><rect x="358" y="213" width="1" height="8" fill="#4aa94f"/><rect x="360" y="209" width="3" height="3" fill="#1d5e22"/><rect x="361" y="210" width="1" height="1" fill="#4aa94f"/><rect x="363" y="203" width="3" height="6" fill="#1d5e22"/><rect x="364" y="204" width="1" height="4" fill="#4aa94f"/><rect x="365" y="203" width="3" height="16" fill="#c01c26"/><rect x="366" y="204" width="1" height="14" fill="#c4222c"/><rect x="368" y="216" width="3" height="3" fill="#1d5e22"/><rect x="369" y="217" width="1" height="1" fill="#4aa94f"/><rect x="371" y="216" width="3" height="6" fill="#c01c26"/><rect x="372" y="217" width="1" height="4" fill="#c4222c"/><rect x="374" y="222" width="3" height="2" fill="#c01c26"/><rect x="376" y="208" width="3" height="16" fill="#1d5e22"/><rect x="377" y="209" width="1" height="14" fill="#4aa94f"/><rect x="379" y="199" width="3" height="9" fill="#1d5e22"/><rect x="380" y="200" width="1" height="7" fill="#4aa94f"/><rect x="382" y="199" width="3" height="12" fill="#c01c26"/><rect x="383" y="200" width="1" height="10" fill="#c4222c"/><rect x="384" y="209" width="3" height="2" fill="#1d5e22"/><rect x="387" y="209" width="3" height="1" fill="#c01c26"/><rect x="390" y="206" width="3" height="4" fill="#1d5e22"/><rect x="391" y="207" width="1" height="2" fill="#4aa94f"/><rect x="393" y="199" width="3" height="7" fill="#1d5e22"/><rect x="394" y="200" width="1" height="5" fill="#4aa94f"/><rect x="395" y="191" width="3" height="8" fill="#1d5e22"/><rect x="396" y="192" width="1" height="6" fill="#4aa94f"/><rect x="398" y="150" width="3" height="41" fill="#1d5e22"/><rect x="399" y="151" width="1" height="39" fill="#4aa94f"/><rect x="401" y="150" width="3" height="4" fill="#c01c26"/><rect x="402" y="151" width="1" height="2" fill="#c4222c"/><rect x="403" y="154" width="3" height="1" fill="#c01c26"/><rect x="406" y="141" width="3" height="13" fill="#1d5e22"/><rect x="407" y="142" width="1" height="11" fill="#4aa94f"/><rect x="409" y="141" width="3" height="8" fill="#c01c26"/><rect x="410" y="142" width="1" height="6" fill="#c4222c"/><rect x="412" y="145" width="3" height="4" fill="#1d5e22"/><rect x="413" y="146" width="1" height="2" fill="#4aa94f"/><rect x="414" y="142" width="3" height="3" fill="#1d5e22"/><rect x="415" y="143" width="1" height="1" fill="#4aa94f"/><rect x="417" y="121" width="3" height="21" fill="#1d5e22"/><rect x="418" y="122" width="1" height="19" fill="#4aa94f"/><rect x="420" y="81" width="3" height="40" fill="#1d5e22"/><rect x="421" y="82" width="1" height="38" fill="#4aa94f"/><rect x="422" y="81" width="3" height="17" fill="#c01c26"/><rect x="423" y="82" width="1" height="15" fill="#c4222c"/><rect x="425" y="98" width="3" height="8" fill="#c01c26"/><rect x="426" y="99" width="1" height="6" fill="#c4222c"/><rect x="428" y="106" width="3" height="1" fill="#c01c26"/><rect x="430" y="97" width="3" height="10" fill="#1d5e22"/><rect x="431" y="98" width="1" height="8" fill="#4aa94f"/><rect x="433" y="97" width="3" height="3" fill="#c01c26"/><rect x="434" y="98" width="1" height="1" fill="#c4222c"/><rect x="436" y="100" width="3" height="16" fill="#c01c26"/><rect x="437" y="101" width="1" height="14" fill="#c4222c"/><rect x="439" y="116" width="3" height="44" fill="#c01c26"/><rect x="440" y="117" width="1" height="42" fill="#c4222c"/><rect x="441" y="154" width="3" height="6" fill="#1d5e22"/><rect x="442" y="155" width="1" height="4" fill="#4aa94f"/><rect x="444" y="154" width="3" height="4" fill="#c01c26"/><rect x="445" y="155" width="1" height="2" fill="#c4222c"/><rect x="447" y="143" width="3" height="15" fill="#1d5e22"/><rect x="448" y="144" width="1" height="13" fill="#4aa94f"/><rect x="449" y="138" width="3" height="5" fill="#1d5e22"/><rect x="450" y="139" width="1" height="3" fill="#4aa94f"/><rect x="452" y="138" width="3" height="4" fill="#c01c26"/><rect x="453" y="139" width="1" height="2" fill="#c4222c"/><rect x="455" y="134" width="3" height="8" fill="#1d5e22"/><rect x="456" y="135" width="1" height="6" fill="#4aa94f"/><rect x="458" y="131" width="3" height="3" fill="#1d5e22"/><rect x="459" y="132" width="1" height="1" fill="#4aa94f"/><rect x="460" y="127" width="3" height="4" fill="#1d5e22"/><rect x="461" y="128" width="1" height="2" fill="#4aa94f"/><rect x="463" y="127" width="3" height="14" fill="#c01c26"/><rect x="464" y="128" width="1" height="12" fill="#c4222c"/><rect x="466" y="141" width="3" height="1" fill="#c01c26"/><rect x="468" y="135" width="3" height="6" fill="#1d5e22"/><rect x="469" y="136" width="1" height="4" fill="#4aa94f"/><rect x="471" y="135" width="3" height="32" fill="#c01c26"/><rect x="472" y="136" width="1" height="30" fill="#c4222c"/><rect x="474" y="157" width="3" height="10" fill="#1d5e22"/><rect x="475" y="158" width="1" height="8" fill="#4aa94f"/><rect x="476" y="157" width="3" height="5" fill="#c01c26"/><rect x="477" y="158" width="1" height="3" fill="#c4222c"/><rect x="479" y="162" width="3" height="90" fill="#c01c26"/><rect x="480" y="163" width="1" height="88" fill="#c4222c"/><rect x="482" y="244" width="3" height="8" fill="#1d5e22"/><rect x="483" y="245" width="1" height="6" fill="#4aa94f"/><rect x="485" y="231" width="3" height="13" fill="#1d5e22"/><rect x="486" y="232" width="1" height="11" fill="#4aa94f"/><rect x="487" y="216" width="3" height="15" fill="#1d5e22"/><rect x="488" y="217" width="1" height="13" fill="#4aa94f"/><rect x="490" y="216" width="3" height="12" fill="#c01c26"/><rect x="491" y="217" width="1" height="10" fill="#c4222c"/><rect x="493" y="228" width="3" height="10" fill="#c01c26"/><rect x="494" y="229" width="1" height="8" fill="#c4222c"/><rect x="495" y="238" width="3" height="12" fill="#c01c26"/><rect x="496" y="239" width="1" height="10" fill="#c4222c"/><rect x="498" y="250" width="3" height="12" fill="#c01c26"/><rect x="499" y="251" width="1" height="10" fill="#c4222c"/><rect x="501" y="258" width="3" height="4" fill="#1d5e22"/><rect x="502" y="259" width="1" height="2" fill="#4aa94f"/><rect x="504" y="254" width="3" height="4" fill="#1d5e22"/><rect x="505" y="255" width="1" height="2" fill="#4aa94f"/><rect x="506" y="254" width="3" height="4" fill="#c01c26"/><rect x="507" y="255" width="1" height="2" fill="#c4222c"/><rect x="509" y="258" width="3" height="8" fill="#c01c26"/><rect x="510" y="259" width="1" height="6" fill="#c4222c"/><rect x="512" y="266" width="3" height="7" fill="#c01c26"/><rect x="513" y="267" width="1" height="5" fill="#c4222c"/><rect x="514" y="269" width="3" height="4" fill="#1d5e22"/><rect x="515" y="270" width="1" height="2" fill="#4aa94f"/><rect x="517" y="267" width="3" height="2" fill="#1d5e22"/><rect x="520" y="264" width="3" height="3" fill="#1d5e22"/><rect x="521" y="265" width="1" height="1" fill="#4aa94f"/><rect x="522" y="251" width="3" height="13" fill="#1d5e22"/><rect x="523" y="252" width="1" height="11" fill="#4aa94f"/><rect x="525" y="251" width="3" height="7" fill="#c01c26"/><rect x="526" y="252" width="1" height="5" fill="#c4222c"/><rect x="528" y="258" width="3" height="10" fill="#c01c26"/><rect x="529" y="259" width="1" height="8" fill="#c4222c"/><rect x="531" y="265" width="3" height="3" fill="#1d5e22"/><rect x="532" y="266" width="1" height="1" fill="#4aa94f"/><rect x="533" y="265" width="3" height="19" fill="#c01c26"/><rect x="534" y="266" width="1" height="17" fill="#c4222c"/><rect x="536" y="283" width="3" height="1" fill="#1d5e22"/><rect x="539" y="277" width="3" height="6" fill="#1d5e22"/><rect x="540" y="278" width="1" height="4" fill="#4aa94f"/><rect x="541" y="275" width="3" height="2" fill="#1d5e22"/><rect x="544" y="275" width="3" height="27" fill="#c01c26"/><rect x="545" y="276" width="1" height="25" fill="#c4222c"/><rect x="547" y="302" width="3" height="6" fill="#c01c26"/><rect x="548" y="303" width="1" height="4" fill="#c4222c"/><rect x="550" y="302" width="3" height="6" fill="#1d5e22"/><rect x="551" y="303" width="1" height="4" fill="#4aa94f"/><rect x="552" y="302" width="3" height="6" fill="#c01c26"/><rect x="553" y="303" width="1" height="4" fill="#c4222c"/><rect x="555" y="288" width="3" height="20" fill="#1d5e22"/><rect x="556" y="289" width="1" height="18" fill="#4aa94f"/><rect x="558" y="288" width="3" height="3" fill="#c01c26"/><rect x="559" y="289" width="1" height="1" fill="#c4222c"/><rect x="560" y="287" width="3" height="4" fill="#1d5e22"/><rect x="561" y="288" width="1" height="2" fill="#4aa94f"/><rect x="563" y="282" width="3" height="5" fill="#1d5e22"/><rect x="564" y="283" width="1" height="3" fill="#4aa94f"/><rect x="566" y="282" width="3" height="15" fill="#c01c26"/><rect x="567" y="283" width="1" height="13" fill="#c4222c"/><rect x="569" y="297" width="3" height="2" fill="#c01c26"/><rect x="571" y="299" width="3" height="9" fill="#c01c26"/><rect x="572" y="300" width="1" height="7" fill="#c4222c"/><rect x="574" y="308" width="3" height="12" fill="#c01c26"/><rect x="575" y="309" width="1" height="10" fill="#c4222c"/><rect x="577" y="314" width="3" height="6" fill="#1d5e22"/><rect x="578" y="315" width="1" height="4" fill="#4aa94f"/><rect x="579" y="314" width="3" height="6" fill="#c01c26"/><rect x="580" y="315" width="1" height="4" fill="#c4222c"/><rect x="582" y="320" width="3" height="6" fill="#c01c26"/><rect x="583" y="321" width="1" height="4" fill="#c4222c"/><rect x="585" y="325" width="3" height="1" fill="#1d5e22"/><rect x="587" y="325" width="3" height="4" fill="#c01c26"/><rect x="588" y="326" width="1" height="2" fill="#c4222c"/><rect x="590" y="329" width="3" height="5" fill="#c01c26"/><rect x="591" y="330" width="1" height="3" fill="#c4222c"/><rect x="593" y="334" width="3" height="6" fill="#c01c26"/><rect x="594" y="335" width="1" height="4" fill="#c4222c"/><rect x="596" y="340" width="3" height="1" fill="#c01c26"/><rect x="598" y="341" width="3" height="1" fill="#1d5e22"/><rect x="601" y="333" width="3" height="8" fill="#1d5e22"/><rect x="602" y="334" width="1" height="6" fill="#4aa94f"/><rect x="604" y="330" width="3" height="3" fill="#1d5e22"/><rect x="605" y="331" width="1" height="1" fill="#4aa94f"/><rect x="606" y="321" width="3" height="9" fill="#1d5e22"/><rect x="607" y="322" width="1" height="7" fill="#4aa94f"/><rect x="609" y="320" width="3" height="1" fill="#1d5e22"/><rect x="612" y="320" width="3" height="2" fill="#c01c26"/><rect x="615" y="322" width="3" height="7" fill="#c01c26"/><rect x="616" y="323" width="1" height="5" fill="#c4222c"/><rect x="617" y="329" width="3" height="7" fill="#c01c26"/><rect x="618" y="330" width="1" height="5" fill="#c4222c"/><rect x="620" y="336" width="3" height="12" fill="#c01c26"/><rect x="621" y="337" width="1" height="10" fill="#c4222c"/><rect x="623" y="336" width="3" height="12" fill="#1d5e22"/><rect x="624" y="337" width="1" height="10" fill="#4aa94f"/><rect x="625" y="323" width="3" height="13" fill="#1d5e22"/><rect x="626" y="324" width="1" height="11" fill="#4aa94f"/><rect x="628" y="323" width="3" height="5" fill="#c01c26"/><rect x="629" y="324" width="1" height="3" fill="#c4222c"/><rect x="631" y="328" width="3" height="13" fill="#c01c26"/><rect x="632" y="329" width="1" height="11" fill="#c4222c"/><rect x="633" y="339" width="3" height="2" fill="#1d5e22"/><rect x="636" y="339" width="3" height="1" fill="#1d5e22"/><rect x="639" y="336" width="3" height="3" fill="#1d5e22"/><rect x="640" y="337" width="1" height="1" fill="#4aa94f"/><rect x="642" y="325" width="3" height="11" fill="#1d5e22"/><rect x="643" y="326" width="1" height="9" fill="#4aa94f"/><rect x="644" y="325" width="3" height="7" fill="#c01c26"/><rect x="645" y="326" width="1" height="5" fill="#c4222c"/><rect x="647" y="332" width="3" height="7" fill="#c01c26"/><rect x="648" y="333" width="1" height="5" fill="#c4222c"/><rect x="650" y="339" width="3" height="3" fill="#c01c26"/><rect x="651" y="340" width="1" height="1" fill="#c4222c"/><rect x="652" y="339" width="3" height="3" fill="#1d5e22"/><rect x="653" y="340" width="1" height="1" fill="#4aa94f"/><rect x="655" y="339" width="3" height="7" fill="#c01c26"/><rect x="656" y="340" width="1" height="5" fill="#c4222c"/><rect x="658" y="346" width="3" height="6" fill="#c01c26"/><rect x="659" y="347" width="1" height="4" fill="#c4222c"/><rect x="661" y="352" width="3" height="1" fill="#1d5e22"/><rect x="663" y="352" width="3" height="6" fill="#c01c26"/><rect x="664" y="353" width="1" height="4" fill="#c4222c"/><rect x="666" y="358" width="3" height="5" fill="#c01c26"/><rect x="667" y="359" width="1" height="3" fill="#c4222c"/><rect x="669" y="353" width="3" height="10" fill="#1d5e22"/><rect x="670" y="354" width="1" height="8" fill="#4aa94f"/><rect x="671" y="353" width="3" height="1" fill="#c01c26"/><rect x="674" y="353" width="3" height="1" fill="#1d5e22"/><rect x="677" y="351" width="3" height="2" fill="#1d5e22"/><rect x="679" y="351" width="3" height="4" fill="#c01c26"/><rect x="680" y="352" width="1" height="2" fill="#c4222c"/><rect x="682" y="355" width="3" height="1" fill="#c01c26"/><rect x="685" y="356" width="3" height="1" fill="#1d5e22"/><rect x="688" y="352" width="3" height="4" fill="#1d5e22"/><rect x="689" y="353" width="1" height="2" fill="#4aa94f"/><rect x="690" y="347" width="3" height="5" fill="#1d5e22"/><rect x="691" y="348" width="1" height="3" fill="#4aa94f"/><rect x="693" y="347" width="3" height="1" fill="#c01c26"/><rect x="696" y="347" width="3" height="4" fill="#c01c26"/><rect x="697" y="348" width="1" height="2" fill="#c4222c"/><rect x="698" y="350" width="3" height="1" fill="#1d5e22"/><rect x="701" y="350" width="3" height="2" fill="#c01c26"/><rect x="704" y="337" width="3" height="15" fill="#1d5e22"/><rect x="705" y="338" width="1" height="13" fill="#4aa94f"/><rect x="707" y="335" width="3" height="2" fill="#1d5e22"/><rect x="709" y="332" width="3" height="3" fill="#1d5e22"/><rect x="710" y="333" width="1" height="1" fill="#4aa94f"/><rect x="712" y="329" width="3" height="3" fill="#1d5e22"/><rect x="713" y="330" width="1" height="1" fill="#4aa94f"/><rect x="715" y="328" width="3" height="1" fill="#1d5e22"/><rect x="717" y="325" width="3" height="3" fill="#1d5e22"/><rect x="718" y="326" width="1" height="1" fill="#4aa94f"/><rect x="720" y="325" width="3" height="7" fill="#c01c26"/><rect x="721" y="326" width="1" height="5" fill="#c4222c"/><rect x="723" y="332" width="3" height="3" fill="#c01c26"/><rect x="724" y="333" width="1" height="1" fill="#c4222c"/><rect x="725" y="335" width="3" height="1" fill="#c01c26"/><rect x="728" y="335" width="3" height="1" fill="#1d5e22"/><rect x="731" y="335" width="3" height="1" fill="#c01c26"/><rect x="734" y="336" width="3" height="2" fill="#c01c26"/><rect x="736" y="323" width="3" height="15" fill="#1d5e22"/><rect x="737" y="324" width="1" height="13" fill="#4aa94f"/><rect x="739" y="323" width="3" height="3" fill="#c01c26"/><rect x="740" y="324" width="1" height="1" fill="#c4222c"/><rect x="742" y="326" width="3" height="9" fill="#c01c26"/><rect x="743" y="327" width="1" height="7" fill="#c4222c"/><rect x="744" y="335" width="3" height="2" fill="#c01c26"/><rect x="747" y="336" width="3" height="1" fill="#1d5e22"/><rect x="750" y="336" width="3" height="8" fill="#c01c26"/><rect x="751" y="337" width="1" height="6" fill="#c4222c"/><rect x="753" y="344" width="3" height="2" fill="#c01c26"/><rect x="755" y="346" width="3" height="10" fill="#c01c26"/><rect x="756" y="347" width="1" height="8" fill="#c4222c"/><rect x="758" y="352" width="3" height="4" fill="#1d5e22"/><rect x="759" y="353" width="1" height="2" fill="#4aa94f"/><rect x="761" y="352" width="3" height="2" fill="#c01c26"/><rect x="763" y="354" width="3" height="1" fill="#1d5e22"/><rect x="766" y="354" width="3" height="1" fill="#c01c26"/><rect x="769" y="355" width="3" height="8" fill="#c01c26"/><rect x="770" y="356" width="1" height="6" fill="#c4222c"/><rect x="772" y="358" width="3" height="5" fill="#1d5e22"/><rect x="773" y="359" width="1" height="3" fill="#4aa94f"/><rect x="774" y="354" width="3" height="4" fill="#1d5e22"/><rect x="775" y="355" width="1" height="2" fill="#4aa94f"/><rect x="777" y="354" width="3" height="2" fill="#c01c26"/><rect x="780" y="356" width="3" height="13" fill="#c01c26"/><rect x="781" y="357" width="1" height="11" fill="#c4222c"/><rect x="782" y="369" width="3" height="1" fill="#c01c26"/><rect x="785" y="370" width="3" height="9" fill="#c01c26"/><rect x="786" y="371" width="1" height="7" fill="#c4222c"/><rect x="788" y="379" width="3" height="1" fill="#c01c26"/><rect x="790" y="379" width="3" height="1" fill="#1d5e22"/><rect x="793" y="379" width="3" height="2" fill="#c01c26"/><rect x="796" y="381" width="3" height="3" fill="#c01c26"/><rect x="797" y="382" width="1" height="1" fill="#c4222c"/><rect x="799" y="384" width="3" height="16" fill="#c01c26"/><rect x="800" y="385" width="1" height="14" fill="#c4222c"/><rect x="801" y="388" width="3" height="12" fill="#1d5e22"/><rect x="802" y="389" width="1" height="10" fill="#4aa94f"/><rect x="804" y="388" width="3" height="1" fill="#c01c26"/><rect x="807" y="389" width="3" height="1" fill="#c01c26"/><rect x="809" y="390" width="3" height="1" fill="#c01c26"/><rect x="812" y="391" width="3" height="4" fill="#c01c26"/><rect x="813" y="392" width="1" height="2" fill="#c4222c"/><rect x="815" y="395" width="3" height="1" fill="#c01c26"/><rect x="818" y="392" width="3" height="3" fill="#1d5e22"/><rect x="819" y="393" width="1" height="1" fill="#4aa94f"/><rect x="820" y="389" width="3" height="3" fill="#1d5e22"/><rect x="821" y="390" width="1" height="1" fill="#4aa94f"/><rect x="823" y="384" width="3" height="5" fill="#1d5e22"/><rect x="824" y="385" width="1" height="3" fill="#4aa94f"/><rect x="826" y="384" width="3" height="4" fill="#c01c26"/><rect x="827" y="385" width="1" height="2" fill="#c4222c"/><rect x="828" y="388" width="3" height="1" fill="#c01c26"/><rect x="831" y="389" width="3" height="1" fill="#c01c26"/><rect x="834" y="390" width="3" height="3" fill="#c01c26"/><rect x="835" y="391" width="1" height="1" fill="#c4222c"/><rect x="836" y="392" width="3" height="1" fill="#1d5e22"/><rect x="839" y="389" width="3" height="3" fill="#1d5e22"/><rect x="840" y="390" width="1" height="1" fill="#4aa94f"/><rect x="842" y="389" width="3" height="1" fill="#c01c26"/><rect x="845" y="390" width="3" height="3" fill="#c01c26"/><rect x="846" y="391" width="1" height="1" fill="#c4222c"/><rect x="847" y="393" width="3" height="7" fill="#c01c26"/><rect x="848" y="394" width="1" height="5" fill="#c4222c"/><rect x="850" y="400" width="3" height="1" fill="#c01c26"/><rect x="853" y="385" width="3" height="15" fill="#1d5e22"/><rect x="854" y="386" width="1" height="13" fill="#4aa94f"/><rect x="855" y="385" width="3" height="4" fill="#c01c26"/><rect x="856" y="386" width="1" height="2" fill="#c4222c"/><rect x="858" y="389" width="3" height="4" fill="#c01c26"/><rect x="859" y="390" width="1" height="2" fill="#c4222c"/><rect x="861" y="389" width="3" height="4" fill="#1d5e22"/><rect x="862" y="390" width="1" height="2" fill="#4aa94f"/><rect x="864" y="389" width="3" height="2" fill="#c01c26"/><rect x="866" y="389" width="3" height="2" fill="#1d5e22"/><rect x="869" y="389" width="3" height="1" fill="#1d5e22"/><rect x="872" y="385" width="3" height="4" fill="#1d5e22"/><rect x="873" y="386" width="1" height="2" fill="#4aa94f"/><rect x="874" y="385" width="3" height="2" fill="#c01c26"/><rect x="877" y="387" width="3" height="5" fill="#c01c26"/><rect x="878" y="388" width="1" height="3" fill="#c4222c"/><rect x="880" y="392" width="3" height="1" fill="#c01c26"/><rect x="882" y="392" width="3" height="2" fill="#c01c26"/><rect x="885" y="388" width="3" height="6" fill="#1d5e22"/><rect x="886" y="389" width="1" height="4" fill="#4aa94f"/><rect x="888" y="385" width="3" height="3" fill="#1d5e22"/><rect x="889" y="386" width="1" height="1" fill="#4aa94f"/><rect x="891" y="385" width="3" height="1" fill="#1d5e22"/><rect x="893" y="384" width="3" height="1" fill="#1d5e22"/><rect x="896" y="383" width="3" height="1" fill="#1d5e22"/><rect x="899" y="383" width="3" height="1" fill="#1d5e22"/><rect x="901" y="380" width="3" height="3" fill="#1d5e22"/><rect x="902" y="381" width="1" height="1" fill="#4aa94f"/><rect x="904" y="374" width="3" height="6" fill="#1d5e22"/><rect x="905" y="375" width="1" height="4" fill="#4aa94f"/><rect x="907" y="374" width="3" height="3" fill="#c01c26"/><rect x="908" y="375" width="1" height="1" fill="#c4222c"/><rect x="910" y="377" width="3" height="7" fill="#c01c26"/><rect x="911" y="378" width="1" height="5" fill="#c4222c"/><rect x="912" y="384" width="3" height="2" fill="#c01c26"/><rect x="915" y="385" width="3" height="1" fill="#1d5e22"/><rect x="918" y="385" width="3" height="4" fill="#c01c26"/><rect x="919" y="386" width="1" height="2" fill="#c4222c"/><rect x="920" y="389" width="3" height="3" fill="#c01c26"/><rect x="921" y="390" width="1" height="1" fill="#c4222c"/><rect x="923" y="384" width="3" height="8" fill="#1d5e22"/><rect x="924" y="385" width="1" height="6" fill="#4aa94f"/><rect x="926" y="384" width="3" height="1" fill="#1d5e22"/><rect x="929" y="383" width="3" height="1" fill="#1d5e22"/><rect x="931" y="383" width="3" height="7" fill="#c01c26"/><rect x="932" y="384" width="1" height="5" fill="#c4222c"/><rect x="934" y="390" width="3" height="4" fill="#c01c26"/><rect x="935" y="391" width="1" height="2" fill="#c4222c"/><rect x="937" y="394" width="3" height="2" fill="#c01c26"/><rect x="939" y="396" width="3" height="1" fill="#c01c26"/><rect x="942" y="394" width="3" height="3" fill="#1d5e22"/><rect x="943" y="395" width="1" height="1" fill="#4aa94f"/><rect x="945" y="393" width="3" height="1" fill="#1d5e22"/><rect x="947" y="391" width="3" height="2" fill="#1d5e22"/><rect x="950" y="391" width="3" height="3" fill="#c01c26"/><rect x="951" y="392" width="1" height="1" fill="#c4222c"/><rect x="953" y="392" width="3" height="2" fill="#1d5e22"/><rect x="956" y="390" width="3" height="2" fill="#1d5e22"/><rect x="958" y="390" width="3" height="1" fill="#1d5e22"/><rect x="961" y="390" width="3" height="4" fill="#c01c26"/><rect x="962" y="391" width="1" height="2" fill="#c4222c"/><rect x="964" y="386" width="3" height="8" fill="#1d5e22"/><rect x="965" y="387" width="1" height="6" fill="#4aa94f"/><rect x="966" y="386" width="3" height="4" fill="#c01c26"/><rect x="967" y="387" width="1" height="2" fill="#c4222c"/><rect x="969" y="388" width="3" height="2" fill="#1d5e22"/><rect x="972" y="388" width="3" height="1" fill="#c01c26"/></g>
<polyline points="10.2,253.6 14.6,253.6" fill="none" stroke="#f23645" stroke-width="1.25" stroke-opacity="0.95" stroke-linejoin="round"/><polyline points="16.8,302.4 19.8,282.6 26,281 61,280.8 68.7,256.6 130.7,256.6" fill="none" stroke="#4caf50" stroke-width="1.25" stroke-opacity="0.95" stroke-linejoin="round"/><polyline points="133.8,198.9 136.2,212.8 138.5,215.2 157.9,215.2 162.5,224.5 165.6,225.2 169.5,229 174.1,240.7 177.2,244.6 181.9,258.3 227.6,258.3" fill="none" stroke="#f23645" stroke-width="1.25" stroke-opacity="0.95" stroke-linejoin="round"/><polyline points="232.3,300 236.8,288.5 242.6,281.6 244.6,281.2 252.4,263 255.4,261 261.2,248 290.6,248" fill="none" stroke="#4caf50" stroke-width="1.25" stroke-opacity="0.95" stroke-linejoin="round"/><polyline points="292.6,187.2 296,191.2 346.8,191.2" fill="none" stroke="#f23645" stroke-width="1.25" stroke-opacity="0.95" stroke-linejoin="round"/><polyline points="350.3,255.3 388.2,255.3 391.2,251.8 396.3,241 401.4,207.3 403.5,207 407.6,200.2 414.7,199.6 417.8,197.6 422.9,160.4 468.8,160.4" fill="none" stroke="#4caf50" stroke-width="1.25" stroke-opacity="0.95" stroke-linejoin="round"/><polyline points="472.2,80.4 475.6,88.6 477.7,102.2 479.5,123.3 482.5,135.4 490.7,136 494.6,140 496.7,150.5 499.7,168.7 503.6,179.2 506.7,180.1 509.7,188.3 512.7,201.9 520.9,208.5 528.4,209.4 533,220 537.5,229.7 542,230.6 548,251.9 572.3,252.1 575.6,262.7 578.8,266.8 582.9,270.9 587,281.5 591.1,287.2 594.1,296.3 598.1,300.4 618.1,300.5 621,309.5 653,309.7 659.3,314.8 661,323.4 663.8,324 667.3,327.2 679.8,327.2 682.7,329.9 709.6,329.9" fill="none" stroke="#f23645" stroke-width="1.25" stroke-opacity="0.95" stroke-linejoin="round"/><polyline points="713.3,354.2 717.7,350 736.5,350 740,348.7 752.6,348.7" fill="none" stroke="#4caf50" stroke-width="1.25" stroke-opacity="0.95" stroke-linejoin="round"/><polyline points="756.2,326.3 761.1,326.8 764.5,329.7 769.9,336 777.2,336.3 779.7,338.5 783.1,346.3 786.5,352.2 794.8,354.2 797.8,357.1 801.7,363.1 809.1,363.4 812.5,365 816,368.4 831.4,368.4 834.3,369.4 837.1,373.4 844.6,373.4 847.4,376.8 850.8,381.1 900,381.1" fill="none" stroke="#f23645" stroke-width="1.25" stroke-opacity="0.95" stroke-linejoin="round"/><polyline points="902,398.4 907.5,392.4 931.8,392.4" fill="none" stroke="#4caf50" stroke-width="1.25" stroke-opacity="0.95" stroke-linejoin="round"/><polyline points="935,374.4 940.1,379.3 972.8,379.4" fill="none" stroke="#f23645" stroke-width="1.25" stroke-opacity="0.95" stroke-linejoin="round"/>
</svg>
<svg x="10" y="453" width="985" height="72" viewBox="10 453 985 72" overflow="hidden">
<rect x="10" y="469.5" width="985" height="39.0" fill="rgba(126,87,194,0.1)"/><polygon points="66,469.5 66.7,469.5" fill="rgba(76,175,80,0.13)"/><polygon points="245.5,469.5 249.9,464.3 252.6,467.6 255.2,464.3 263.8,460.6 264.6,469.5" fill="rgba(76,175,80,0.13)"/><polygon points="276.5,469.5 276.7,469.5" fill="rgba(76,175,80,0.13)"/><polygon points="399,469.5 399.5,469.5" fill="rgba(76,175,80,0.13)"/><polygon points="406.1,469.5 407.9,469.5" fill="rgba(76,175,80,0.13)"/><polygon points="415.2,469.5 423.2,466.9 426.4,469.5" fill="rgba(76,175,80,0.13)"/><polygon points="430.8,469.5 432,469.5" fill="rgba(76,175,80,0.13)"/><polygon points="479.8,508.5 481.5,508.5" fill="rgba(242,54,69,0.13)"/><polygon points="545.6,508.5 548.5,508.5" fill="rgba(242,54,69,0.13)"/><polygon points="589.9,508.5 598.9,510.4 599.8,508.5" fill="rgba(242,54,69,0.13)"/><polygon points="785.3,508.5 789.1,510.6 790.7,508.5" fill="rgba(242,54,69,0.13)"/><polygon points="792.9,508.5 796.6,510.6 799,516.2 800.9,508.5" fill="rgba(242,54,69,0.13)"/><polygon points="815.3,508.5 815.9,508.5" fill="rgba(242,54,69,0.13)"/><line x1="10" y1="469.5" x2="995" y2="469.5" stroke="#787b86" stroke-width="1" stroke-dasharray="5 6" stroke-dashoffset="0" shape-rendering="crispEdges"/><line x1="10" y1="508.5" x2="995" y2="508.5" stroke="#787b86" stroke-width="1" stroke-dasharray="5 6" stroke-dashoffset="0" shape-rendering="crispEdges"/><line x1="10" y1="489.5" x2="995" y2="489.5" stroke="#787b86" stroke-opacity="0.5" stroke-width="1" stroke-dasharray="5 6" stroke-dashoffset="0" shape-rendering="crispEdges"/><polyline points="10.6,490.1 16,487.5 21.2,484.8 27.9,482.8 34.5,481.9 43.8,481.1 50.4,482.2 61,485.2 68.9,483.9 78.2,481.9 87.5,480.8 98.1,479.5 106,482.8 114,485.5 124.6,487.5 132.5,489.7 137.8,492.5 147.1,493.7 150.6,493.7 159.9,494.5 175.8,495.8 183.7,498.7 193,500.7 206.2,499.4 219.5,494.7 226.1,493.7 232.7,490.1 242,485.7 252.6,479.1 264.5,469.8 277.9,468.9 283.2,470.6 291.2,475.5 301.8,483.5 309.7,485.5 319,487.8 328.3,486.5 336.2,484.8 345.5,485.5 354.8,484.8 362.7,486.1 373.3,487.1 382.6,486.1 391.9,487.1 397.2,486.1 403.8,482.8 407.9,480.8 417.2,476.2 423.8,472 433.1,469.3 439.7,472 453,477.5 460.9,481.2 471.5,486.1 482.1,490.5 492.7,494.7 503.3,501.4 515.2,505.3 524.5,504.3 530,504.7 543.2,504.3 553.8,504.3 564.4,502.7 576.4,502 589.6,502 601.5,506 612.1,504.7 621.4,503.7 633.3,499.4 643.9,497.1 658.5,496.1 667.9,497.6 675.9,498.4 686.5,499.4 694.4,498.4 702.4,496.3 713,490.5 720.9,486.5 727.5,484.1 734.2,482.8 741.5,480.4 748.7,482.5 756.7,487.5 766,491 776.6,496.1 787.2,501.4 799.3,505.3 809.9,506.7 817.8,508.6 827.1,505.1 840.3,502.4 849.6,501.1 858.9,498 869.5,496.3 882.7,493.4 890.7,490.5 899.9,488.4 909.2,485.7 917,485.2 928.6,485.8 936.1,488.1 944.5,491.9 953,493.4 961.5,493.2 967.9,493.4 973,492.1" fill="none" stroke="#f6cf45" stroke-width="1.4" stroke-linejoin="round"/><polyline points="10.6,486.1 14,485.5 16.6,476.9 19.3,475.5 23.2,475.1 25.2,476.2 27.9,475.5 30.5,479.5 34.5,480.2 38.5,485.5 41.8,482.2 45.1,487.5 49.1,492.1 51.7,494.1 55,492.1 57.7,494.5 61,479.5 66.3,468.9 69.6,473.5 73.6,470.9 76.9,476.9 80.2,482.8 84.8,488.8 88.1,485.5 90.1,488.8 95.4,484.8 98.1,477.3 99.4,480.2 101.4,486.1 107.3,485.5 110,486.8 114.6,484.1 119.9,497.1 123.2,496.1 128.5,494.1 131.8,494.7 135.8,503.3 141.8,492.1 145.3,488.1 149.9,483.9 154.6,493.4 161.2,499.4 165.2,498 173.1,502.4 181.7,508 184.4,497.1 187.7,496.1 192.3,500 198.3,494.7 200.9,489.7 206.9,498.7 208.9,489.7 212.2,489.4 215.5,493.7 219.5,490.1 223.4,492.1 226.1,489.7 231.4,477.5 236.7,477.5 239.3,474.6 242,474.2 246,468.9 249.9,464.3 252.6,467.6 255.2,464.3 263.8,460.6 265.2,475.5 269.1,478.2 272,476.9 276.6,469.3 283.9,481.5 285.2,486.1 293.2,497.1 296.5,493.4 298.5,486.5 301.1,490.8 304.4,488.8 307.7,484.1 312.4,481.2 317,487.5 319.7,480.8 323,478.2 326.3,486.5 328.9,485.7 334.2,481.2 338.9,492.4 342.2,488.1 345.5,490.5 346.8,482.2 350.1,478.8 353.4,480.8 356.1,489.7 358.7,486.8 364,484.4 366,489.4 370.7,489.2 375.3,491 377.3,486.1 379.9,483.1 383.9,487.5 389.2,486.5 395.8,479.5 399.1,469.3 403.8,471.6 407.2,468.5 409.9,472.2 414.6,470.6 420.5,460.3 423.2,466.9 427.2,470.2 431.8,469.3 435.1,472.2 437.7,478.8 439.1,490.8 442.4,489.7 445,490.5 449.7,485.2 453,486.5 457,483.5 460.9,482.2 464.2,486.8 466.9,487.1 468.9,485.2 472.2,495.4 475.5,492.1 477.5,494.7 480.1,510.4 488.1,499.8 492.7,502.7 498.7,506.7 504.6,504.3 512.6,507.7 516.6,505.6 522.5,498 527.2,500.7 530.5,501.6 533.1,505.6 537.1,505.1 541.3,501.6 544.6,508 547.9,509.6 549.9,506 553.2,507.7 555.2,498.7 558.5,498.4 563.8,495 567.1,499.4 571.1,501.6 575,505.6 577.7,503.7 583,506.7 587,506.9 593.6,510.6 598.9,510.4 601.5,505.1 604.8,501.6 607.5,495.4 612.8,495.8 616.1,500.7 618.7,503.7 621.1,506.7 625.4,491.4 628.7,493.4 632,499.4 634.6,497.6 639.9,496.1 642.3,489.4 645.9,493.4 650.5,497.6 653.2,495.4 659.1,501.1 661.8,501.6 666.5,505.5 668.6,498.4 673.2,498 677.2,496.3 681.2,498 685.8,498 691.1,491.4 695.1,492.7 697.1,494.5 699.7,492.4 702.1,494.5 705,481.5 707.7,479.5 713,476.9 717.6,474.2 720.9,480.2 724.9,483.9 728.9,484.8 732.2,485.2 733.9,488.1 736.8,475.1 740.1,477.5 742.8,486.1 745.4,489.2 748.1,487.5 751.4,494.7 756,501.6 758.7,498 764.6,500 767.3,500.7 769.9,504.7 775,496.1 777.9,497.6 779.9,504.3 783.2,506 786.5,510 789.1,510.6 791.1,508 793.3,508.6 796.6,510.6 799,516.2 801.7,505.3 805.9,505.3 809.9,506 813.8,508.2 815.8,508.6 819.8,502.4 824.2,496.3 827.1,498.4 831.1,499.4 835.7,502.4 840.1,497.4 843,498.4 848.3,505.3 850.9,505.3 854.2,489.2 858.9,494.5 862.2,492.1 864.2,493.4 868.1,491.4 870.1,491.4 872.1,487.5 874.8,489.2 878.1,493.4 882.7,495.4 885.4,489.7 888.7,486.1 893.3,483.9 899.9,482.5 904.9,473.5 908,478.9 909.6,485.9 912.6,489.5 915.9,488.7 918,493 920.6,495.5 923.9,487.7 928.6,486.3 931.8,494 935,497.4 939.8,499.5 942.9,496.1 946.7,493.2 948.3,491.3 950.9,495.5 955.1,492.1 958.9,490.5 962,492.6 964.2,484.5 966.8,489.8 970,485.8 973,486.6" fill="none" stroke="#7e57c2" stroke-width="1.1" stroke-linejoin="round"/>
</svg>
<rect x="995" y="27" width="1" height="525" fill="#d3d5e1" shape-rendering="crispEdges"/>
<rect x="10" y="452" width="1037" height="1" fill="#d3d5e1" shape-rendering="crispEdges"/>
<rect x="10" y="525" width="1037" height="1" fill="#d3d5e1" shape-rendering="crispEdges"/>
<text x="1004" y="75.8" class="ax">36.00</text><text x="1004" y="123.6" class="ax">32.00</text><text x="1004" y="170.9" class="ax">28.00</text><text x="1004" y="218.1" class="ax">24.00</text><text x="1004" y="265.8" class="ax">20.00</text><text x="1004" y="312.9" class="ax">16.00</text><text x="1004" y="360.0" class="ax">12.00</text><text x="1004" y="406.8" class="ax">8.00</text><text x="1004" y="464.1" class="ax">80.00</text><text x="1004" y="503" class="ax">40.00</text><svg x="995" y="27" width="52" height="425.5" overflow="hidden"><text x="9" y="427.7" class="ax">4.00</text></svg>
<rect x="999" y="31.7" width="43.2" height="25" rx="3" fill="#ffffff"/>
<text x="1008.6" y="49.2" textLength="20.8" lengthAdjust="spacingAndGlyphs" style="font-size:12.6px;fill:#131722">USD</text>
<path d="M996,380.2 H1030.7 a2,2 0 0 1 2,2 V394.8 a2,2 0 0 1 -2,2 H996 Z" fill="#131722"/>
<text x="1003.6" y="392.9" textLength="24" lengthAdjust="spacingAndGlyphs" style="font-size:12.4px;font-weight:bold;fill:#ffffff">9.28</text>
<text x="41" y="543" text-anchor="middle" class="ax">May</text><text x="125.6" y="543" text-anchor="middle" class="ax">Jun</text><text x="206.5" y="543" text-anchor="middle" class="ax">Jul</text><text x="290.6" y="543" text-anchor="middle" class="ax">Aug</text><text x="374" y="543" text-anchor="middle" class="ax">Sep</text><text x="455.5" y="543" text-anchor="middle" class="ax">Oct</text><text x="539" y="543" text-anchor="middle" class="ax">Nov</text><text x="620.2" y="543" text-anchor="middle" class="ax">Dec</text><text x="704.8" y="543" text-anchor="middle" class="ax b">2026</text><text x="788.4" y="543" text-anchor="middle" class="ax">Feb</text><text x="863.7" y="543" text-anchor="middle" class="ax">Mar</text><text x="948.3" y="543" text-anchor="middle" class="ax">Apr</text>
<g style="font-size:12px;fill:#363636">
<text x="18.3" y="46.3" textLength="200" lengthAdjust="spacingAndGlyphs">Avalanche / US Dollar · 1D · Coinbase</text>
<text x="226.6" y="46.3" textLength="31" lengthAdjust="spacingAndGlyphs">O<tspan fill="#c41e26">9.37</tspan></text>
<text x="265.2" y="46.3" textLength="30.4" lengthAdjust="spacingAndGlyphs">H<tspan fill="#c41e26">9.41</tspan></text>
<text x="303.6" y="46.3" textLength="29.6" lengthAdjust="spacingAndGlyphs">L<tspan fill="#c41e26">9.25</tspan></text>
<text x="340.7" y="46.3" textLength="30" lengthAdjust="spacingAndGlyphs">C<tspan fill="#c41e26">9.28</tspan></text>
<text x="378.5" y="46.3" textLength="78" lengthAdjust="spacingAndGlyphs" fill="#c41e26">−0.08 (−0.85%)</text>
<text x="18.3" y="63" textLength="58.2" lengthAdjust="spacingAndGlyphs">Supertrend</text>
<text x="85.4" y="63">Ø</text>
<text x="100" y="63" textLength="23.2" lengthAdjust="spacingAndGlyphs" fill="#f23645">9.99</text>
<text x="18.3" y="471.6" textLength="15.4" lengthAdjust="spacingAndGlyphs">RSI</text>
<text x="41.5" y="471.6" textLength="28.8" lengthAdjust="spacingAndGlyphs" fill="#7e57c2">51.47</text>
<text x="77.8" y="471.6" textLength="29.7" lengthAdjust="spacingAndGlyphs" fill="#f5cd3a">46.07</text>
</g>
<g fill="#131722">
<path d="M11.7,574.8 H24.6 V589.9 H19 V580.2 H11.7 Z"/>
<circle cx="29" cy="577.5" r="2.6"/>
<path d="M34.5,574.8 H41.6 L35.6,589.9 H28.6 Z"/>
</g>
<text x="49.4" y="589.9" textLength="120" lengthAdjust="spacingAndGlyphs" style="font-size:20.4px;font-weight:bold;fill:#131722">TradingView</text>
</svg>
</body></html>
